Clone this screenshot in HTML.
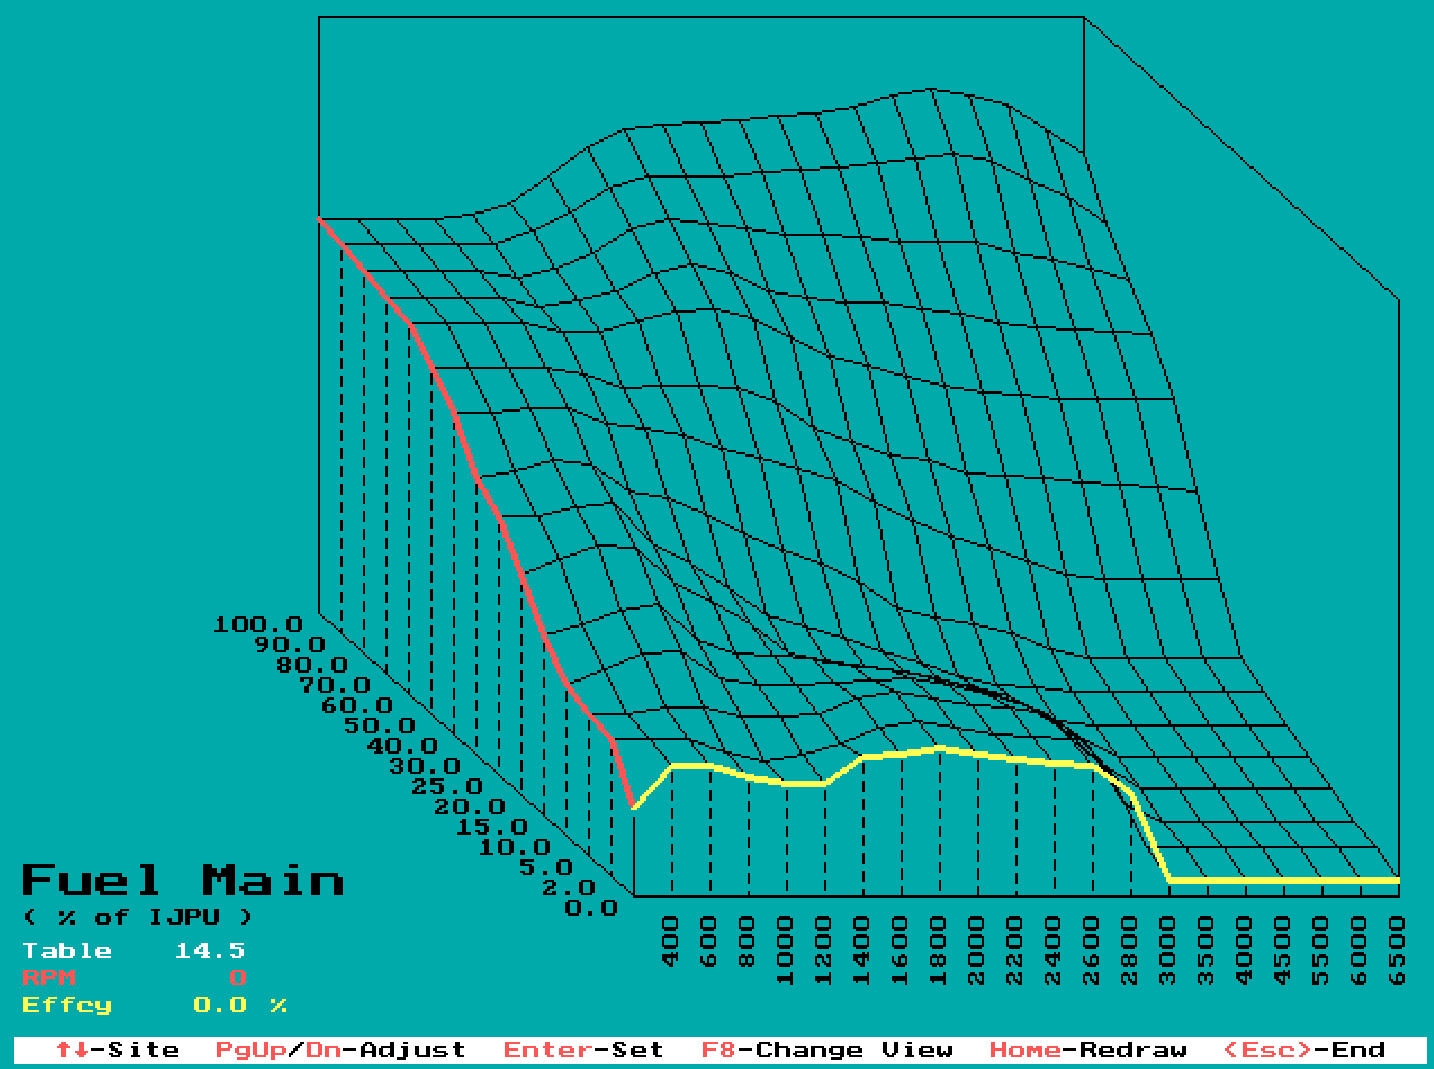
<!DOCTYPE html>
<html lang="en"><head><meta charset="utf-8"><title>Fuel Main ( % of IJPU ) - 3D map</title>
<style>
html,body{margin:0;padding:0;background:#00AAAA;}
body{position:relative;width:1434px;height:1069px;overflow:hidden;font-family:"Liberation Mono",monospace;}
svg{display:block;position:absolute;left:0;top:0}
.t{position:absolute;white-space:pre;color:transparent;font-family:"Liberation Mono",monospace;font-weight:bold;line-height:1;letter-spacing:3.5px;pointer-events:none}
</style></head><body>
<svg width="1434" height="1069" viewBox="0 0 1434 1069" shape-rendering="crispEdges">
<rect x="0" y="0" width="1434" height="1069" fill="#00AAAA"/>
<path fill="#FFFFFF" d="M82 943h6v2h-6zM23 943h14v2h-14zM201 943h7v2h-7zM230 943h14v2h-14zM181 943h4v2h-4zM59 943h5v4h-5zM230 945h5v2h-5zM199 945h9v2h-9zM178 945h7v2h-7zM43 947h12v2h-12zM230 947h11v2h-11zM196 947h5v2h-5zM59 947h14v2h-14zM97 947h12v2h-12zM203 947h5v5h-5zM106 949h5v3h-5zM194 949h5v3h-5zM95 949h5v3h-5zM52 949h5v3h-5zM194 952h16v2h-16zM43 952h14v2h-14zM95 952h16v2h-16zM84 945h4v11h-4zM181 947h4v9h-4zM70 949h5v7h-5zM239 949h5v7h-5zM59 949h5v7h-5zM230 954h5v2h-5zM41 954h5v2h-5zM95 954h5v2h-5zM52 954h5v2h-5zM203 954h5v2h-5zM28 945h4v13h-4zM217 954h4v4h-4zM82 956h9v2h-9zM176 956h14v2h-14zM232 956h9v2h-9zM97 956h14v2h-14zM59 956h14v2h-14zM201 956h9v2h-9zM43 956h14v2h-14zM14 1037h1413v5h-1413zM268 1042h32v2h-32zM14 1042h47v2h-47zM66 1042h13v2h-13zM372 1042h18v2h-18zM320 1042h45v2h-45zM408 1042h47v2h-47zM898 1042h9v2h-9zM120 1042h13v2h-13zM520 1042h25v2h-25zM550 1042h65v2h-65zM1236 1042h7v2h-7zM138 1042h11v2h-11zM912 1042h79v2h-79zM718 1042h5v2h-5zM1303 1042h30v2h-30zM770 1042h5v2h-5zM394 1042h9v2h-9zM230 1042h23v2h-23zM732 1042h27v2h-27zM1348 1042h32v2h-32zM1094 1042h34v2h-34zM1258 1042h41v2h-41zM304 1042h3v2h-3zM624 1042h29v2h-29zM1132 1042h99v2h-99zM84 1042h27v2h-27zM779 1042h104v4h-104zM154 1042h63v4h-63zM1006 1042h75v4h-75zM460 1042h45v4h-45zM658 1042h45v4h-45zM367 1044h3v2h-3zM113 1044h5v2h-5zM394 1044h61v2h-61zM232 1044h21v2h-21zM898 1044h93v2h-93zM1132 1044h97v2h-97zM1306 1044h27v2h-27zM772 1044h3v2h-3zM1096 1044h32v2h-32zM626 1044h27v2h-27zM268 1044h30v2h-30zM14 1044h45v2h-45zM302 1044h5v2h-5zM761 1044h7v2h-7zM1247 1044h54v2h-54zM374 1044h16v2h-16zM68 1044h11v2h-11zM122 1044h27v2h-27zM550 1044h63v2h-63zM1234 1044h9v2h-9zM509 1044h36v2h-36zM617 1044h5v2h-5zM322 1044h41v2h-41zM1337 1044h43v2h-43zM995 1042h7v6h-7zM221 1044h7v4h-7zM707 1044h14v4h-14zM84 1044h25v4h-25zM725 1044h5v4h-5zM734 1044h23v4h-23zM1085 1044h7v4h-7zM509 1046h14v2h-14zM1022 1046h5v2h-5zM1166 1046h5v2h-5zM1274 1046h7v2h-7zM644 1046h7v2h-7zM158 1046h7v2h-7zM788 1046h7v2h-7zM806 1046h5v2h-5zM572 1046h7v2h-7zM592 1046h21v2h-21zM70 1046h9v2h-9zM338 1046h23v2h-23zM1247 1046h16v2h-16zM1292 1046h11v2h-11zM1337 1046h14v2h-14zM1096 1046h5v2h-5zM1231 1046h12v2h-12zM932 1046h5v2h-5zM115 1046h16v2h-16zM554 1046h7v2h-7zM1112 1046h7v2h-7zM824 1046h7v2h-7zM1150 1046h5v2h-5zM284 1046h11v2h-11zM376 1046h5v2h-5zM232 1046h5v2h-5zM1033 1046h3v2h-3zM1186 1046h41v2h-41zM536 1046h7v2h-7zM1006 1046h5v2h-5zM1042 1046h5v2h-5zM860 1046h23v2h-23zM898 1046h7v2h-7zM14 1046h43v2h-43zM464 1046h41v2h-41zM912 1046h9v2h-9zM300 1046h7v2h-7zM619 1046h14v2h-14zM1308 1046h25v2h-25zM430 1046h5v2h-5zM138 1046h9v2h-9zM844 1046h5v2h-5zM1058 1046h23v2h-23zM583 1046h3v2h-3zM176 1046h41v2h-41zM662 1046h41v2h-41zM1141 1046h3v2h-3zM1364 1046h7v2h-7zM394 1046h7v2h-7zM446 1046h7v2h-7zM365 1046h7v5h-7zM1175 1046h7v5h-7zM941 1046h7v5h-7zM923 1048h7v3h-7zM1060 1048h3v3h-3zM851 1048h7v3h-7zM635 1048h7v3h-7zM790 1048h14v3h-14zM1049 1048h7v3h-7zM563 1048h7v3h-7zM167 1048h7v3h-7zM752 1048h5v3h-5zM1283 1048h7v3h-7zM340 1048h3v3h-3zM732 1048h7v3h-7zM1328 1048h5v3h-5zM356 1048h5v3h-5zM1229 1048h14v3h-14zM1256 1048h5v3h-5zM104 1048h7v3h-7zM66 1048h13v3h-13zM716 1048h7v3h-7zM298 1048h9v3h-9zM1346 1048h5v3h-5zM230 1048h5v3h-5zM1294 1048h12v3h-12zM1103 1048h7v3h-7zM622 1048h9v3h-9zM608 1048h7v3h-7zM118 1048h15v3h-15zM1186 1048h39v3h-39zM430 1048h3v3h-3zM586 1048h9v3h-9zM1265 1048h14v3h-14zM518 1048h5v3h-5zM1076 1048h5v3h-5zM437 1048h18v3h-18zM1144 1048h20v3h-20zM286 1048h7v3h-7zM1310 1048h5v3h-5zM84 1048h7v3h-7zM887 1042h7v11h-7zM761 1046h14v7h-14zM1121 1048h7v5h-7zM934 1048h3v5h-3zM239 1048h7v5h-7zM898 1048h9v5h-9zM646 1048h7v5h-7zM178 1048h39v5h-39zM383 1048h7v5h-7zM862 1048h21v5h-21zM574 1048h5v5h-5zM1373 1048h7v5h-7zM275 1048h7v5h-7zM1114 1048h3v5h-3zM833 1048h7v5h-7zM826 1048h3v5h-3zM1094 1048h5v5h-5zM1085 1051h5v2h-5zM1247 1051h16v2h-16zM88 1051h27v2h-27zM1141 1051h14v2h-14zM295 1051h12v2h-12zM286 1051h5v2h-5zM1186 1051h41v2h-41zM1308 1051h25v2h-25zM66 1051h9v2h-9zM430 1051h5v2h-5zM946 1051h2v2h-2zM1274 1051h5v2h-5zM1060 1051h21v2h-21zM941 1051h2v2h-2zM446 1051h9v2h-9zM583 1051h36v2h-36zM1283 1051h20v2h-20zM221 1051h14v2h-14zM1175 1051h2v2h-2zM1031 1051h2v2h-2zM1231 1051h12v2h-12zM1180 1051h2v2h-2zM790 1051h5v2h-5zM1036 1051h2v2h-2zM257 1042h7v13h-7zM311 1044h7v11h-7zM408 1046h7v9h-7zM419 1046h7v9h-7zM268 1046h3v9h-3zM952 1046h39v9h-39zM322 1046h3v9h-3zM250 1046h3v9h-3zM844 1048h3v7h-3zM1042 1048h3v7h-3zM550 1048h9v7h-9zM460 1048h45v7h-45zM912 1048h7v7h-7zM154 1048h9v7h-9zM1366 1048h3v7h-3zM538 1048h7v7h-7zM376 1048h3v7h-3zM1013 1048h7v7h-7zM1006 1048h3v7h-3zM1168 1048h3v7h-3zM1024 1048h3v7h-3zM138 1048h11v7h-11zM658 1048h45v7h-45zM509 1051h14v4h-14zM734 1051h23v4h-23zM626 1051h5v4h-5zM707 1051h14v4h-14zM122 1051h11v4h-11zM1337 1051h14v4h-14zM725 1051h5v4h-5zM113 1053h5v2h-5zM1186 1053h43v2h-43zM772 1053h3v2h-3zM1283 1053h18v2h-18zM284 1053h5v2h-5zM66 1053h11v2h-11zM221 1053h16v2h-16zM1234 1053h9v2h-9zM1049 1053h32v2h-32zM86 1053h23v2h-23zM617 1053h5v2h-5zM1276 1053h3v2h-3zM790 1053h3v2h-3zM563 1053h16v2h-16zM826 1053h5v2h-5zM448 1053h7v2h-7zM1373 1053h5v2h-5zM1121 1053h5v2h-5zM1103 1053h14v2h-14zM1141 1053h12v2h-12zM1096 1053h3v2h-3zM797 1053h7v2h-7zM1247 1053h25v2h-25zM430 1053h14v2h-14zM889 1053h3v2h-3zM896 1053h11v2h-11zM1157 1053h7v2h-7zM923 1053h14v2h-14zM293 1053h14v2h-14zM383 1053h5v2h-5zM1306 1053h27v2h-27zM851 1053h34v2h-34zM761 1053h7v2h-7zM635 1053h18v2h-18zM167 1053h50v2h-50zM583 1053h30v2h-30zM1384 1042h43v15h-43zM1132 1046h5v11h-5zM394 1048h9v9h-9zM14 1048h47v9h-47zM779 1048h7v9h-7zM808 1048h3v9h-3zM527 1048h7v9h-7zM815 1048h7v9h-7zM329 1048h7v9h-7zM1355 1048h7v9h-7zM995 1051h7v6h-7zM340 1051h21v6h-21zM365 1053h7v4h-7zM1085 1053h7v4h-7zM1031 1053h7v4h-7zM1022 1055h5v2h-5zM430 1055h3v2h-3zM1168 1055h5v2h-5zM66 1055h13v2h-13zM158 1055h7v2h-7zM320 1055h5v2h-5zM646 1055h9v2h-9zM914 1055h7v2h-7zM1274 1055h7v2h-7zM275 1055h14v2h-14zM1141 1055h14v2h-14zM1096 1055h5v2h-5zM1258 1055h3v2h-3zM1366 1055h5v2h-5zM250 1055h5v2h-5zM446 1055h11v2h-11zM1177 1055h3v2h-3zM178 1055h39v2h-39zM1126 1055h2v2h-2zM1236 1055h7v2h-7zM554 1055h7v2h-7zM934 1055h5v2h-5zM221 1055h25v2h-25zM1294 1055h5v2h-5zM376 1055h5v2h-5zM1060 1055h21v2h-21zM538 1055h9v2h-9zM1184 1055h47v2h-47zM291 1055h16v2h-16zM1303 1055h30v2h-30zM1006 1055h5v2h-5zM1348 1055h3v2h-3zM120 1055h11v2h-11zM583 1055h32v2h-32zM770 1055h5v2h-5zM520 1055h3v2h-3zM790 1055h5v2h-5zM732 1055h27v2h-27zM140 1055h11v2h-11zM862 1055h25v2h-25zM943 1055h3v2h-3zM464 1055h41v2h-41zM1378 1055h2v2h-2zM894 1055h11v2h-11zM624 1055h9v2h-9zM408 1055h9v2h-9zM826 1055h14v2h-14zM266 1055h5v2h-5zM574 1055h5v2h-5zM844 1055h5v2h-5zM662 1055h41v2h-41zM707 1055h16v2h-16zM950 1055h41v2h-41zM388 1055h2v2h-2zM1042 1055h5v2h-5zM84 1055h27v2h-27zM1114 1055h5v2h-5zM842 1057h585v3h-585zM14 1057h223v3h-223zM248 1057h23v3h-23zM406 1057h425v3h-425zM275 1057h122v3h-122zM14 1060h1413v4h-1413z"/>
<path fill="#000000" d="M318 16h767v2h-767zM1083 18h4v2h-4zM1087 20h3v2h-3zM1090 22h2v3h-2zM1092 25h4v2h-4zM1096 27h3v2h-3zM1099 29h2v2h-2zM1101 31h2v3h-2zM1103 34h2v2h-2zM1105 36h3v2h-3zM1108 38h2v2h-2zM1110 40h2v3h-2zM1112 43h2v2h-2zM1114 45h5v2h-5zM1119 47h2v2h-2zM1121 49h2v3h-2zM1123 52h3v2h-3zM1126 54h2v2h-2zM1128 56h2v2h-2zM1130 58h2v3h-2zM1132 61h3v2h-3zM1135 63h2v2h-2zM1137 65h4v2h-4zM1141 67h3v3h-3zM1144 70h2v2h-2zM1146 72h2v2h-2zM1148 74h2v2h-2zM1150 76h3v3h-3zM1153 79h2v2h-2zM1155 81h2v2h-2zM1157 83h2v2h-2zM1159 85h5v3h-5zM925 88h12v2h-12zM1164 88h2v2h-2zM937 90h13v2h-13zM912 90h13v2h-13zM1166 90h2v2h-2zM930 90h2v2h-2zM950 92h14v2h-14zM898 92h14v2h-14zM1168 92h3v2h-3zM1171 94h2v3h-2zM889 94h9v3h-9zM964 94h11v3h-11zM932 92h2v7h-2zM975 97h9v2h-9zM880 97h9v2h-9zM892 97h2v2h-2zM1173 97h2v2h-2zM968 97h2v2h-2zM984 99h9v2h-9zM1175 99h2v2h-2zM874 99h6v2h-6zM993 101h9v2h-9zM1177 101h3v2h-3zM867 101h7v2h-7zM970 99h3v7h-3zM934 99h3v7h-3zM894 99h2v7h-2zM1180 103h2v3h-2zM858 103h9v3h-9zM1002 103h7v3h-7zM849 106h9v2h-9zM1006 106h7v2h-7zM1182 106h4v2h-4zM853 108h3v2h-3zM1186 108h3v2h-3zM835 108h14v2h-14zM1013 108h2v2h-2zM896 106h2v6h-2zM937 106h2v6h-2zM973 106h2v6h-2zM822 110h13v2h-13zM1015 110h5v2h-5zM1189 110h2v2h-2zM856 110h2v5h-2zM797 112h25v3h-25zM1020 112h2v3h-2zM1191 112h2v3h-2zM1009 108h2v9h-2zM898 112h3v5h-3zM1193 115h2v2h-2zM768 115h29v2h-29zM1022 115h5v2h-5zM815 115h2v2h-2zM975 112h2v7h-2zM939 112h2v7h-2zM750 117h18v2h-18zM1027 117h4v2h-4zM777 117h2v2h-2zM1195 117h3v2h-3zM858 115h2v6h-2zM817 117h3v4h-3zM1198 119h2v2h-2zM721 119h29v2h-29zM1031 119h2v2h-2zM1011 117h2v7h-2zM901 117h2v7h-2zM941 119h2v5h-2zM779 119h2v5h-2zM739 121h2v3h-2zM1200 121h2v3h-2zM1033 121h5v3h-5zM682 121h39v3h-39zM977 119h2v7h-2zM860 121h2v5h-2zM1202 124h2v2h-2zM653 124h29v2h-29zM700 124h3v2h-3zM1038 124h2v2h-2zM820 121h2v7h-2zM741 124h2v4h-2zM1040 126h5v2h-5zM1204 126h5v2h-5zM635 126h18v2h-18zM662 126h2v2h-2zM781 124h3v6h-3zM903 124h2v6h-2zM943 124h3v6h-3zM1013 124h2v6h-2zM979 126h3v4h-3zM703 126h2v4h-2zM1045 128h2v2h-2zM622 128h13v2h-13zM1209 128h2v2h-2zM862 126h3v7h-3zM664 128h3v5h-3zM743 128h2v5h-2zM822 128h2v5h-2zM624 130h2v3h-2zM617 130h5v3h-5zM1211 130h2v3h-2zM1045 130h6v3h-6zM784 130h2v5h-2zM1051 133h3v2h-3zM1213 133h3v2h-3zM613 133h4v2h-4zM905 130h2v7h-2zM705 130h2v7h-2zM982 130h2v7h-2zM946 130h2v7h-2zM824 133h2v4h-2zM865 133h2v4h-2zM626 133h2v4h-2zM667 133h2v4h-2zM1216 135h2v2h-2zM608 135h5v2h-5zM1054 135h4v2h-4zM1015 130h3v9h-3zM745 133h3v6h-3zM1047 133h2v6h-2zM786 135h2v4h-2zM604 137h4v2h-4zM1218 137h2v2h-2zM1058 137h2v2h-2zM628 137h3v5h-3zM707 137h2v5h-2zM599 139h5v3h-5zM1060 139h5v3h-5zM1220 139h2v3h-2zM867 137h2v7h-2zM984 137h2v7h-2zM669 137h2v7h-2zM907 137h3v7h-3zM826 137h3v7h-3zM948 137h2v7h-2zM748 139h2v5h-2zM595 142h4v2h-4zM1222 142h3v2h-3zM1065 142h4v2h-4zM788 139h2v7h-2zM1018 139h2v7h-2zM1049 139h2v7h-2zM709 142h3v4h-3zM631 142h2v4h-2zM590 144h5v2h-5zM1069 144h3v2h-3zM1225 144h2v2h-2zM910 144h2v4h-2zM750 144h2v4h-2zM671 144h2v4h-2zM829 144h2v4h-2zM869 144h2v4h-2zM586 146h4v2h-4zM1227 146h4v2h-4zM1072 146h4v2h-4zM1083 20h2v131h-2zM986 144h2v7h-2zM950 144h2v7h-2zM633 146h2v5h-2zM790 146h3v5h-3zM1076 148h2v3h-2zM583 148h3v3h-3zM1231 148h3v3h-3zM1051 146h3v7h-3zM712 146h2v7h-2zM673 148h3v5h-3zM752 148h2v5h-2zM588 148h2v5h-2zM579 151h4v2h-4zM952 151h3v2h-3zM1078 151h7v2h-7zM1234 151h2v2h-2zM1020 146h2v9h-2zM831 148h2v7h-2zM912 148h2v7h-2zM871 148h3v7h-3zM635 151h2v4h-2zM1236 153h2v2h-2zM577 153h2v2h-2zM943 153h16v2h-16zM988 151h3v6h-3zM793 151h2v6h-2zM590 153h2v4h-2zM714 153h2v4h-2zM676 153h2v4h-2zM1083 153h2v4h-2zM574 155h3v2h-3zM1238 155h2v2h-2zM925 155h18v2h-18zM952 155h3v2h-3zM959 155h14v2h-14zM914 155h2v2h-2zM1054 153h2v7h-2zM754 153h3v7h-3zM833 155h2v5h-2zM637 155h3v5h-3zM874 155h2v5h-2zM570 157h4v3h-4zM991 157h2v3h-2zM973 157h13v3h-13zM1240 157h3v3h-3zM905 157h20v3h-20zM1022 155h2v7h-2zM592 157h3v5h-3zM795 157h2v5h-2zM914 160h2v2h-2zM876 160h2v2h-2zM887 160h18v2h-18zM1243 160h2v2h-2zM568 160h2v2h-2zM986 160h7v2h-7zM678 157h2v7h-2zM1085 157h2v7h-2zM716 157h2v7h-2zM835 160h3v4h-3zM640 160h2v4h-2zM757 160h2v4h-2zM1245 162h2v2h-2zM991 162h6v2h-6zM867 162h20v2h-20zM565 162h3v2h-3zM955 157h2v9h-2zM1056 160h2v6h-2zM797 162h2v4h-2zM595 162h2v4h-2zM1247 164h2v2h-2zM849 164h18v2h-18zM876 164h2v2h-2zM991 164h2v2h-2zM561 164h4v2h-4zM838 164h2v2h-2zM997 164h5v2h-5zM1024 162h3v7h-3zM680 164h2v5h-2zM642 164h2v5h-2zM759 164h2v5h-2zM718 164h3v5h-3zM1249 166h5v3h-5zM820 166h29v3h-29zM1002 166h4v3h-4zM799 166h3v3h-3zM597 166h2v3h-2zM559 166h2v3h-2zM916 162h3v9h-3zM1087 164h3v7h-3zM838 169h2v2h-2zM781 169h39v2h-39zM556 169h3v2h-3zM1006 169h5v2h-5zM761 169h2v2h-2zM1254 169h2v2h-2zM1058 166h2v7h-2zM644 169h2v4h-2zM599 169h2v4h-2zM721 169h2v4h-2zM682 169h3v4h-3zM1256 171h2v2h-2zM752 171h29v2h-29zM799 171h3v2h-3zM1011 171h4v2h-4zM552 171h4v2h-4zM957 166h2v9h-2zM878 166h2v9h-2zM993 166h2v9h-2zM761 173h2v2h-2zM1258 173h3v2h-3zM734 173h18v2h-18zM723 173h2v2h-2zM1015 173h5v2h-5zM550 173h2v2h-2zM685 173h2v2h-2zM646 173h3v2h-3zM1027 169h2v9h-2zM840 171h2v7h-2zM1090 171h2v7h-2zM601 173h3v5h-3zM1261 175h2v3h-2zM547 175h3v3h-3zM644 175h90v3h-90zM1020 175h4v3h-4zM919 171h2v9h-2zM1060 173h3v7h-3zM802 173h2v7h-2zM723 178h2v2h-2zM685 178h2v2h-2zM1263 178h2v2h-2zM543 178h4v2h-4zM635 178h9v2h-9zM1024 178h7v2h-7zM880 175h3v7h-3zM763 175h3v7h-3zM649 178h2v4h-2zM550 178h2v4h-2zM604 178h2v4h-2zM628 180h7v2h-7zM541 180h2v2h-2zM1029 180h4v2h-4zM1265 180h2v2h-2zM959 175h2v9h-2zM995 175h2v9h-2zM1092 178h2v6h-2zM842 178h2v6h-2zM725 180h2v4h-2zM687 180h2v4h-2zM1267 182h3v2h-3zM1033 182h5v2h-5zM538 182h3v2h-3zM622 182h6v2h-6zM1029 182h2v2h-2zM804 180h2v7h-2zM1063 180h2v7h-2zM921 180h2v7h-2zM606 182h2v5h-2zM651 182h2v5h-2zM552 182h2v5h-2zM1038 184h7v3h-7zM1270 184h2v3h-2zM534 184h4v3h-4zM613 184h9v3h-9zM766 182h2v7h-2zM689 184h2v5h-2zM727 184h3v5h-3zM554 187h2v2h-2zM1272 187h4v2h-4zM1045 187h4v2h-4zM532 187h2v2h-2zM608 187h5v2h-5zM883 182h2v9h-2zM844 184h3v7h-3zM653 187h2v4h-2zM527 189h5v2h-5zM604 189h4v2h-4zM1049 189h5v2h-5zM1276 189h3v2h-3zM997 184h3v9h-3zM1031 184h2v9h-2zM1094 184h2v9h-2zM961 184h3v9h-3zM806 187h2v6h-2zM1065 187h2v6h-2zM556 189h3v4h-3zM691 189h3v4h-3zM610 189h3v4h-3zM768 189h2v4h-2zM525 191h2v2h-2zM1279 191h2v2h-2zM601 191h3v2h-3zM1054 191h6v2h-6zM923 187h2v9h-2zM730 189h2v7h-2zM655 191h3v5h-3zM1281 193h2v3h-2zM520 193h5v3h-5zM559 193h2v3h-2zM1067 193h2v3h-2zM1060 193h5v3h-5zM597 193h4v3h-4zM885 191h2v7h-2zM847 191h2v7h-2zM694 193h2v5h-2zM613 193h2v5h-2zM1065 196h4v2h-4zM518 196h2v2h-2zM1283 196h2v2h-2zM595 196h2v2h-2zM1033 193h3v7h-3zM1096 193h3v7h-3zM808 193h3v7h-3zM770 193h2v7h-2zM658 196h2v4h-2zM732 196h2v4h-2zM561 196h2v4h-2zM1067 198h7v2h-7zM590 198h5v2h-5zM516 198h2v2h-2zM1285 198h3v2h-3zM1000 193h2v9h-2zM964 193h2v9h-2zM696 198h2v4h-2zM615 198h2v4h-2zM1288 200h2v2h-2zM1074 200h2v2h-2zM511 200h5v2h-5zM586 200h4v2h-4zM925 196h3v9h-3zM660 200h2v5h-2zM734 200h2v5h-2zM811 200h2v5h-2zM563 200h2v5h-2zM507 202h4v3h-4zM1290 202h2v3h-2zM1076 202h2v3h-2zM583 202h3v3h-3zM887 198h2v9h-2zM849 198h2v9h-2zM1069 200h3v7h-3zM772 200h3v7h-3zM1099 200h2v7h-2zM617 202h2v5h-2zM698 202h2v5h-2zM579 205h4v2h-4zM565 205h3v2h-3zM1292 205h2v2h-2zM1078 205h5v2h-5zM498 205h9v2h-9zM511 205h3v2h-3zM1036 200h2v9h-2zM662 205h2v4h-2zM736 205h3v4h-3zM1083 207h2v2h-2zM577 207h2v2h-2zM491 207h7v2h-7zM619 207h3v2h-3zM1294 207h5v2h-5zM1002 202h2v9h-2zM966 202h2v9h-2zM813 205h2v6h-2zM514 207h2v4h-2zM700 207h3v4h-3zM568 207h2v4h-2zM1085 209h5v2h-5zM1299 209h2v2h-2zM572 209h5v2h-5zM484 209h7v2h-7zM928 205h2v9h-2zM1101 207h2v7h-2zM775 207h2v7h-2zM889 207h3v7h-3zM851 207h2v7h-2zM622 209h2v5h-2zM664 209h3v5h-3zM1301 211h2v3h-2zM516 211h2v3h-2zM475 211h9v3h-9zM1090 211h2v3h-2zM568 211h4v3h-4zM318 18h2v198h-2zM1072 207h2v9h-2zM739 209h2v7h-2zM1038 209h2v7h-2zM703 211h2v5h-2zM1303 214h3v2h-3zM518 214h2v2h-2zM462 214h13v2h-13zM563 214h5v2h-5zM1092 214h4v2h-4zM815 211h2v7h-2zM624 214h2v4h-2zM572 214h2v4h-2zM667 214h2v4h-2zM444 216h18v2h-18zM559 216h4v2h-4zM473 216h2v2h-2zM1096 216h3v2h-3zM520 216h3v2h-3zM1306 216h2v2h-2zM968 211h2v9h-2zM1004 211h2v9h-2zM853 214h3v6h-3zM1103 214h2v6h-2zM930 214h2v6h-2zM777 214h2v6h-2zM741 216h2v4h-2zM705 216h2v4h-2zM1308 218h2v2h-2zM322 218h122v2h-122zM554 218h5v2h-5zM1099 218h2v2h-2zM664 218h16v2h-16zM523 218h2v2h-2zM892 214h2v9h-2zM1074 216h2v7h-2zM574 218h3v5h-3zM475 218h3v5h-3zM626 218h2v5h-2zM358 220h3v3h-3zM669 220h2v3h-2zM550 220h4v3h-4zM1310 220h2v3h-2zM435 220h2v3h-2zM1101 220h7v3h-7zM680 220h18v3h-18zM397 220h2v3h-2zM707 220h2v3h-2zM655 220h9v3h-9zM1040 216h2v9h-2zM817 218h3v7h-3zM525 220h2v5h-2zM743 220h2v5h-2zM779 220h2v5h-2zM698 223h20v2h-20zM361 223h2v2h-2zM1312 223h3v2h-3zM478 223h2v2h-2zM437 223h2v2h-2zM545 223h5v2h-5zM646 223h9v2h-9zM399 223h2v2h-2zM856 220h2v7h-2zM577 223h2v4h-2zM628 223h3v4h-3zM671 223h2v4h-2zM1105 223h3v4h-3zM637 225h9v2h-9zM401 225h2v2h-2zM541 225h4v2h-4zM527 225h2v2h-2zM363 225h2v2h-2zM745 225h3v2h-3zM718 225h18v2h-18zM1315 225h2v2h-2zM707 225h2v2h-2zM480 225h2v2h-2zM439 225h3v2h-3zM970 220h3v9h-3zM932 220h2v9h-2zM1006 220h3v9h-3zM894 223h2v6h-2zM1076 223h2v6h-2zM442 227h2v2h-2zM403 227h3v2h-3zM529 227h3v2h-3zM1317 227h4v2h-4zM736 227h16v2h-16zM365 227h2v2h-2zM631 227h6v2h-6zM536 227h5v2h-5zM781 225h3v7h-3zM1042 225h3v7h-3zM820 225h2v7h-2zM709 227h3v5h-3zM579 227h2v5h-2zM673 227h3v5h-3zM1108 227h2v5h-2zM482 227h2v5h-2zM626 229h7v3h-7zM1321 229h3v3h-3zM745 229h3v3h-3zM752 229h14v3h-14zM529 229h7v3h-7zM858 227h2v7h-2zM367 229h3v5h-3zM444 229h2v5h-2zM406 229h2v5h-2zM784 232h2v2h-2zM484 232h3v2h-3zM523 232h6v2h-6zM1324 232h2v2h-2zM581 232h2v2h-2zM624 232h2v2h-2zM822 232h2v2h-2zM766 232h13v2h-13zM1078 229h3v7h-3zM534 232h2v4h-2zM712 232h2v4h-2zM633 232h2v4h-2zM676 232h2v4h-2zM619 234h5v2h-5zM370 234h2v2h-2zM487 234h2v2h-2zM446 234h2v2h-2zM860 234h2v2h-2zM516 234h7v2h-7zM408 234h2v2h-2zM1326 234h2v2h-2zM779 234h63v2h-63zM896 229h2v9h-2zM973 229h2v9h-2zM934 229h3v9h-3zM1009 229h2v9h-2zM748 232h2v6h-2zM1110 232h2v6h-2zM583 234h3v4h-3zM410 236h2v2h-2zM617 236h2v2h-2zM784 236h2v2h-2zM372 236h2v2h-2zM511 236h5v2h-5zM448 236h3v2h-3zM1328 236h2v2h-2zM822 236h2v2h-2zM842 236h29v2h-29zM1045 232h2v9h-2zM678 236h2v5h-2zM536 236h2v5h-2zM714 236h2v5h-2zM489 236h2v5h-2zM635 236h2v5h-2zM451 238h2v3h-2zM1330 238h3v3h-3zM937 238h2v3h-2zM898 238h3v3h-3zM412 238h3v3h-3zM871 238h18v3h-18zM613 238h4v3h-4zM860 238h2v3h-2zM374 238h2v3h-2zM505 238h6v3h-6zM975 238h2v3h-2zM1081 236h2v7h-2zM1112 238h2v5h-2zM586 238h2v5h-2zM453 241h2v2h-2zM1333 241h2v2h-2zM538 241h3v2h-3zM415 241h2v2h-2zM889 241h90v2h-90zM376 241h3v2h-3zM491 241h2v2h-2zM608 241h5v2h-5zM498 241h7v2h-7zM750 238h2v7h-2zM824 238h2v7h-2zM786 238h2v7h-2zM637 241h3v4h-3zM680 241h2v4h-2zM716 241h2v4h-2zM606 243h2v2h-2zM937 243h2v2h-2zM979 243h9v2h-9zM898 243h3v2h-3zM1335 243h2v2h-2zM975 243h2v2h-2zM345 243h153v2h-153zM1011 238h2v9h-2zM1047 241h2v6h-2zM862 241h3v6h-3zM588 243h2v4h-2zM541 243h2v4h-2zM381 245h2v2h-2zM601 245h5v2h-5zM988 245h7v2h-7zM457 245h3v2h-3zM1337 245h2v2h-2zM419 245h2v2h-2zM1114 243h3v7h-3zM752 245h2v5h-2zM496 245h2v5h-2zM640 245h2v5h-2zM682 245h3v5h-3zM995 247h7v3h-7zM599 247h2v3h-2zM1339 247h5v3h-5zM1083 243h2v9h-2zM939 245h2v7h-2zM718 245h3v7h-3zM826 245h3v7h-3zM901 245h2v7h-2zM788 245h2v7h-2zM421 247h3v5h-3zM1013 247h2v5h-2zM383 247h2v5h-2zM590 247h2v5h-2zM460 247h2v5h-2zM543 247h2v5h-2zM1002 250h9v2h-9zM595 250h4v2h-4zM1344 250h2v2h-2zM498 250h2v2h-2zM977 245h2v9h-2zM865 247h2v7h-2zM642 250h2v4h-2zM1117 250h2v4h-2zM685 250h2v4h-2zM462 252h2v2h-2zM590 252h5v2h-5zM1011 252h9v2h-9zM424 252h2v2h-2zM1346 252h2v2h-2zM385 252h3v2h-3zM1049 247h2v9h-2zM754 250h3v6h-3zM721 252h2v4h-2zM545 252h2v4h-2zM500 252h2v4h-2zM790 252h3v4h-3zM464 254h2v2h-2zM1020 254h13v2h-13zM1013 254h2v2h-2zM426 254h2v2h-2zM586 254h4v2h-4zM388 254h2v2h-2zM1348 254h3v2h-3zM1085 252h2v7h-2zM829 252h2v7h-2zM903 252h2v7h-2zM644 254h2v5h-2zM595 254h2v5h-2zM687 254h2v5h-2zM390 256h2v3h-2zM1351 256h2v3h-2zM1051 256h3v3h-3zM502 256h3v3h-3zM547 256h3v3h-3zM466 256h3v3h-3zM579 256h7v3h-7zM428 256h2v3h-2zM1033 256h14v3h-14zM340 250h3v11h-3zM941 252h2v9h-2zM867 254h2v7h-2zM1119 254h2v7h-2zM723 256h2v5h-2zM430 259h3v2h-3zM392 259h2v2h-2zM1047 259h11v2h-11zM1353 259h2v2h-2zM574 259h5v2h-5zM469 259h2v2h-2zM979 254h3v9h-3zM793 256h2v7h-2zM757 256h2v7h-2zM1015 256h3v7h-3zM689 259h2v4h-2zM597 259h2v4h-2zM505 259h2v4h-2zM550 259h2v4h-2zM646 259h3v4h-3zM1051 261h3v2h-3zM570 261h4v2h-4zM1355 261h2v2h-2zM1058 261h9v2h-9zM905 259h2v6h-2zM1087 259h3v6h-3zM831 259h2v6h-2zM471 261h2v4h-2zM433 261h2v4h-2zM394 261h3v4h-3zM725 261h2v4h-2zM1121 261h2v4h-2zM599 263h2v2h-2zM563 263h7v2h-7zM507 263h2v2h-2zM687 263h11v2h-11zM1067 263h9v2h-9zM1357 263h3v2h-3zM869 261h2v7h-2zM943 261h3v7h-3zM649 263h2v5h-2zM552 263h2v5h-2zM1360 265h2v3h-2zM678 265h9v3h-9zM559 265h4v3h-4zM473 265h2v3h-2zM435 265h2v3h-2zM691 265h3v3h-3zM1076 265h9v3h-9zM397 265h2v3h-2zM1090 265h2v3h-2zM698 265h9v3h-9zM795 263h2v7h-2zM982 263h2v7h-2zM1054 263h2v7h-2zM759 263h2v7h-2zM509 265h2v5h-2zM601 265h3v5h-3zM727 265h3v5h-3zM669 268h9v2h-9zM1085 268h9v2h-9zM475 268h3v2h-3zM550 268h9v2h-9zM437 268h2v2h-2zM707 268h9v2h-9zM1362 268h4v2h-4zM399 268h2v2h-2zM1018 263h2v9h-2zM833 265h2v7h-2zM1123 265h3v7h-3zM907 265h3v7h-3zM651 268h2v4h-2zM694 268h2v4h-2zM871 268h3v4h-3zM730 270h2v2h-2zM1094 270h9v2h-9zM660 270h9v2h-9zM367 270h117v2h-117zM1366 270h3v2h-3zM541 270h9v2h-9zM716 270h9v2h-9zM511 270h3v2h-3zM1090 270h2v2h-2zM946 268h2v6h-2zM556 270h3v4h-3zM604 270h2v4h-2zM442 272h2v2h-2zM651 272h9v2h-9zM1103 272h7v2h-7zM403 272h3v2h-3zM484 272h14v2h-14zM725 272h9v2h-9zM480 272h2v2h-2zM532 272h9v2h-9zM1369 272h2v2h-2zM761 270h2v7h-2zM797 270h2v7h-2zM1056 270h2v7h-2zM514 272h2v5h-2zM1126 272h2v5h-2zM696 272h2v5h-2zM523 274h9v3h-9zM730 274h2v3h-2zM1371 274h2v3h-2zM1110 274h7v3h-7zM734 274h5v3h-5zM559 274h2v3h-2zM646 274h5v3h-5zM498 274h13v3h-13zM340 268h3v11h-3zM984 270h2v9h-2zM874 272h2v7h-2zM1020 272h2v7h-2zM1092 272h2v7h-2zM835 272h3v7h-3zM910 272h2v7h-2zM606 274h2v5h-2zM444 274h2v5h-2zM406 274h2v5h-2zM655 274h3v5h-3zM482 274h2v5h-2zM642 277h4v2h-4zM739 277h4v2h-4zM1117 277h9v2h-9zM1373 277h2v2h-2zM511 277h12v2h-12zM1128 277h2v2h-2zM561 277h2v2h-2zM948 274h2v7h-2zM763 277h3v4h-3zM732 277h2v4h-2zM698 277h2v4h-2zM1126 279h4v2h-4zM743 279h5v2h-5zM484 279h3v2h-3zM608 279h2v2h-2zM1375 279h3v2h-3zM446 279h2v2h-2zM518 279h2v2h-2zM637 279h5v2h-5zM408 279h2v2h-2zM1058 277h2v6h-2zM799 277h3v6h-3zM658 279h2v4h-2zM563 279h2v4h-2zM410 281h2v2h-2zM633 281h4v2h-4zM748 281h4v2h-4zM487 281h2v2h-2zM1128 281h2v2h-2zM1378 281h2v2h-2zM448 281h3v2h-3zM876 279h2v7h-2zM1094 279h2v7h-2zM1022 279h2v7h-2zM838 279h2v7h-2zM912 279h2v7h-2zM986 279h2v7h-2zM700 281h3v5h-3zM610 281h3v5h-3zM734 281h2v5h-2zM520 281h3v5h-3zM451 283h2v3h-2zM1380 283h2v3h-2zM565 283h3v3h-3zM660 283h2v3h-2zM412 283h3v3h-3zM489 283h2v3h-2zM752 283h5v3h-5zM628 283h5v3h-5zM363 277h2v11h-2zM950 281h2v7h-2zM766 281h2v7h-2zM1130 283h2v5h-2zM802 283h2v5h-2zM1382 286h2v2h-2zM757 286h4v2h-4zM453 286h2v2h-2zM624 286h4v2h-4zM415 286h2v2h-2zM491 286h2v2h-2zM523 286h2v2h-2zM1060 283h3v7h-3zM568 286h2v4h-2zM662 286h2v4h-2zM703 286h2v4h-2zM1096 286h3v4h-3zM736 286h3v4h-3zM613 286h2v4h-2zM619 288h5v2h-5zM1384 288h5v2h-5zM525 288h2v2h-2zM768 288h2v2h-2zM761 288h5v2h-5zM878 286h2v6h-2zM840 286h2v6h-2zM914 286h2v6h-2zM493 288h3v4h-3zM455 288h2v4h-2zM417 288h2v4h-2zM610 290h9v2h-9zM570 290h2v2h-2zM766 290h9v2h-9zM1389 290h2v2h-2zM988 286h3v9h-3zM1024 286h3v9h-3zM804 288h2v7h-2zM1132 288h3v7h-3zM527 290h2v5h-2zM705 290h2v5h-2zM664 290h3v5h-3zM739 290h2v5h-2zM1391 292h2v3h-2zM617 292h2v3h-2zM496 292h2v3h-2zM775 292h13v3h-13zM457 292h3v3h-3zM601 292h9v3h-9zM768 292h2v3h-2zM572 292h2v3h-2zM419 292h2v3h-2zM340 286h3v11h-3zM952 288h3v9h-3zM1099 290h2v7h-2zM788 295h14v2h-14zM1393 295h3v2h-3zM421 295h3v2h-3zM806 295h2v2h-2zM529 295h3v2h-3zM498 295h2v2h-2zM592 295h9v2h-9zM460 295h2v2h-2zM1063 290h2v9h-2zM916 292h3v7h-3zM880 292h3v7h-3zM842 292h2v7h-2zM574 295h3v4h-3zM741 295h2v4h-2zM1135 295h2v4h-2zM619 295h3v4h-3zM707 295h2v4h-2zM770 295h2v4h-2zM667 295h2v4h-2zM390 297h117v2h-117zM1396 297h2v2h-2zM532 297h2v2h-2zM583 297h9v2h-9zM802 297h15v2h-15zM1027 295h2v6h-2zM844 299h3v2h-3zM669 299h2v2h-2zM817 299h18v2h-18zM464 299h2v2h-2zM806 299h2v2h-2zM572 299h11v2h-11zM507 299h9v2h-9zM622 299h2v2h-2zM426 299h2v2h-2zM883 299h2v2h-2zM502 299h3v2h-3zM991 295h2v9h-2zM1101 297h2v7h-2zM955 297h2v7h-2zM709 299h3v5h-3zM534 299h2v5h-2zM772 299h3v5h-3zM743 299h2v5h-2zM1137 299h2v5h-2zM505 301h2v3h-2zM516 301h9v3h-9zM466 301h3v3h-3zM624 301h2v3h-2zM428 301h2v3h-2zM835 301h54v3h-54zM559 301h13v3h-13zM363 295h2v11h-2zM919 299h2v7h-2zM1065 299h2v7h-2zM579 301h2v5h-2zM671 301h2v5h-2zM808 301h3v5h-3zM430 304h3v2h-3zM844 304h3v2h-3zM525 304h9v2h-9zM536 304h2v2h-2zM507 304h2v2h-2zM545 304h14v2h-14zM469 304h2v2h-2zM883 304h2v2h-2zM889 304h14v2h-14zM1029 301h2v7h-2zM712 304h2v4h-2zM775 304h2v4h-2zM745 304h3v4h-3zM626 304h2v4h-2zM471 306h2v2h-2zM903 306h13v2h-13zM433 306h2v2h-2zM921 306h2v2h-2zM509 306h2v2h-2zM581 306h2v2h-2zM534 306h11v2h-11zM957 304h2v6h-2zM1103 304h2v6h-2zM993 304h2v6h-2zM1139 304h2v6h-2zM673 306h3v4h-3zM916 308h16v2h-16zM628 308h3v2h-3zM696 308h25v2h-25zM541 308h2v2h-2zM583 308h3v2h-3zM885 306h2v7h-2zM847 306h2v7h-2zM1067 306h2v7h-2zM811 306h2v7h-2zM473 308h2v5h-2zM435 308h2v5h-2zM777 308h2v5h-2zM748 308h2v5h-2zM511 308h3v5h-3zM671 310h25v3h-25zM721 310h9v3h-9zM959 310h2v3h-2zM932 310h18v3h-18zM631 310h2v3h-2zM714 310h2v3h-2zM921 310h2v3h-2zM543 310h2v3h-2zM340 304h3v11h-3zM385 304h3v11h-3zM586 310h2v5h-2zM1141 310h3v5h-3zM514 313h2v2h-2zM730 313h9v2h-9zM545 313h2v2h-2zM475 313h3v2h-3zM662 313h9v2h-9zM950 313h16v2h-16zM437 313h2v2h-2zM676 313h2v2h-2zM1031 308h2v9h-2zM1105 310h3v7h-3zM750 313h2v4h-2zM633 313h2v4h-2zM779 313h2v4h-2zM588 315h2v2h-2zM959 315h2v2h-2zM547 315h3v2h-3zM516 315h2v2h-2zM478 315h2v2h-2zM653 315h9v2h-9zM739 315h9v2h-9zM439 315h3v2h-3zM966 315h9v2h-9zM995 310h2v9h-2zM813 313h2v6h-2zM1069 313h3v6h-3zM849 313h2v6h-2zM748 317h6v2h-6zM442 317h2v2h-2zM518 317h2v2h-2zM644 317h9v2h-9zM975 317h9v2h-9zM635 317h2v2h-2zM480 317h2v2h-2zM887 313h2v9h-2zM923 313h2v9h-2zM716 313h2v9h-2zM1144 315h2v7h-2zM678 315h2v7h-2zM781 317h3v5h-3zM550 317h2v5h-2zM590 317h2v5h-2zM1108 317h2v5h-2zM997 319h3v3h-3zM444 319h2v3h-2zM984 319h9v3h-9zM752 319h7v3h-7zM520 319h3v3h-3zM635 319h9v3h-9zM482 319h2v3h-2zM363 313h2v11h-2zM1033 317h3v7h-3zM815 319h2v5h-2zM851 319h2v5h-2zM637 322h3v2h-3zM993 322h16v2h-16zM759 322h4v2h-4zM412 322h117v2h-117zM552 322h2v2h-2zM592 322h3v2h-3zM626 322h9v2h-9zM961 317h3v9h-3zM1072 319h2v7h-2zM784 322h2v4h-2zM1146 322h2v4h-2zM997 324h3v2h-3zM554 324h2v2h-2zM484 324h3v2h-3zM529 324h9v2h-9zM446 324h2v2h-2zM1009 324h18v2h-18zM1036 324h2v2h-2zM619 324h7v2h-7zM595 324h2v2h-2zM763 324h5v2h-5zM523 324h2v2h-2zM889 322h3v6h-3zM925 322h3v6h-3zM1110 322h2v6h-2zM718 322h3v6h-3zM613 326h6v2h-6zM1074 326h2v2h-2zM556 326h3v2h-3zM768 326h4v2h-4zM538 326h9v2h-9zM1027 326h29v2h-29zM680 322h2v9h-2zM754 322h3v9h-3zM853 324h3v7h-3zM640 324h2v7h-2zM817 324h3v7h-3zM525 326h2v5h-2zM597 326h2v5h-2zM786 326h2v5h-2zM487 326h2v5h-2zM1148 326h2v5h-2zM448 326h3v5h-3zM1112 328h2v3h-2zM1056 328h38v3h-38zM547 328h9v3h-9zM559 328h2v3h-2zM1036 328h2v3h-2zM604 328h9v3h-9zM772 328h5v3h-5zM340 322h3v11h-3zM385 322h3v11h-3zM1000 326h2v7h-2zM964 326h2v7h-2zM1094 331h38v2h-38zM1074 331h2v2h-2zM777 331h4v2h-4zM556 331h48v2h-48zM1150 331h3v2h-3zM928 328h2v7h-2zM892 328h2v7h-2zM451 331h2v4h-2zM527 331h2v4h-2zM820 331h2v4h-2zM788 331h2v4h-2zM489 331h2v4h-2zM1112 333h2v2h-2zM1132 333h21v2h-21zM599 333h2v2h-2zM781 333h5v2h-5zM721 328h2v9h-2zM856 331h2v6h-2zM642 331h2v6h-2zM682 331h3v6h-3zM1038 331h2v6h-2zM563 333h2v4h-2zM786 335h7v2h-7zM1150 335h3v2h-3zM408 328h2v12h-2zM757 331h2v9h-2zM1076 333h2v7h-2zM453 335h2v5h-2zM529 335h3v5h-3zM601 335h3v5h-3zM491 335h2v5h-2zM790 337h5v3h-5zM363 331h2v11h-2zM1002 333h2v9h-2zM966 333h2v9h-2zM1114 335h3v7h-3zM822 335h2v7h-2zM565 337h3v5h-3zM795 340h4v2h-4zM894 335h2v9h-2zM930 335h2v9h-2zM723 337h2v7h-2zM858 337h2v7h-2zM685 337h2v7h-2zM644 337h2v7h-2zM1153 337h2v7h-2zM493 340h3v4h-3zM455 340h2v4h-2zM532 340h2v4h-2zM790 340h3v4h-3zM799 342h5v2h-5zM1040 337h2v9h-2zM604 340h2v6h-2zM1078 340h3v6h-3zM759 340h2v6h-2zM568 342h2v4h-2zM804 344h4v2h-4zM824 342h2v7h-2zM968 342h2v7h-2zM1117 342h2v7h-2zM1004 342h2v7h-2zM534 344h2v5h-2zM496 344h2v5h-2zM457 344h3v5h-3zM808 346h5v3h-5zM340 340h3v11h-3zM385 340h3v11h-3zM896 344h2v7h-2zM1155 344h2v7h-2zM860 344h2v7h-2zM932 344h2v7h-2zM646 344h3v7h-3zM606 346h2v5h-2zM570 346h2v5h-2zM813 349h4v2h-4zM793 344h2v9h-2zM725 344h2v9h-2zM687 344h2v9h-2zM1081 346h2v7h-2zM1042 346h3v7h-3zM536 349h2v4h-2zM826 349h3v4h-3zM498 349h2v4h-2zM460 349h2v4h-2zM817 351h5v2h-5zM761 346h2v9h-2zM1119 349h2v6h-2zM1006 349h3v6h-3zM649 351h2v4h-2zM572 351h2v4h-2zM862 351h3v4h-3zM822 353h4v2h-4zM829 353h2v2h-2zM408 346h2v12h-2zM970 349h3v9h-3zM608 351h2v7h-2zM898 351h3v7h-3zM1157 351h2v7h-2zM462 353h2v5h-2zM538 353h3v5h-3zM500 353h2v5h-2zM826 355h9v3h-9zM363 349h2v11h-2zM934 351h3v9h-3zM689 353h2v7h-2zM1083 353h2v7h-2zM1045 353h2v7h-2zM727 353h3v7h-3zM574 355h3v5h-3zM835 358h9v2h-9zM829 358h2v2h-2zM795 353h2v9h-2zM865 355h2v7h-2zM651 355h2v7h-2zM1121 355h2v7h-2zM1009 355h2v7h-2zM464 358h2v4h-2zM610 358h3v4h-3zM541 358h2v4h-2zM502 358h3v4h-3zM844 360h9v2h-9zM763 355h3v9h-3zM973 358h2v6h-2zM1159 358h3v6h-3zM577 360h2v4h-2zM853 362h9v2h-9zM867 362h2v2h-2zM901 358h2v9h-2zM937 360h2v7h-2zM691 360h3v7h-3zM1047 360h2v7h-2zM505 362h2v5h-2zM466 362h3v5h-3zM543 362h2v5h-2zM862 364h9v3h-9zM340 358h3v11h-3zM385 358h3v11h-3zM730 360h2v9h-2zM1085 360h2v9h-2zM831 360h2v9h-2zM1123 362h3v7h-3zM1011 362h2v7h-2zM653 362h2v7h-2zM613 362h2v7h-2zM579 364h2v5h-2zM1162 364h2v5h-2zM435 367h117v2h-117zM871 367h9v2h-9zM797 362h2v9h-2zM867 367h2v4h-2zM552 369h13v2h-13zM469 369h2v2h-2zM880 369h7v2h-7zM766 364h2v9h-2zM975 364h2v9h-2zM939 367h2v6h-2zM903 367h2v6h-2zM1049 367h2v6h-2zM547 369h3v4h-3zM509 369h2v4h-2zM581 369h2v4h-2zM615 369h2v4h-2zM887 371h7v2h-7zM565 371h14v2h-14zM408 364h2v12h-2zM694 367h2v9h-2zM1164 369h2v7h-2zM732 369h2v7h-2zM1126 369h2v7h-2zM1087 369h3v7h-3zM655 369h3v7h-3zM471 371h2v5h-2zM905 373h2v3h-2zM894 373h9v3h-9zM579 373h9v3h-9zM363 367h2v11h-2zM833 369h2v9h-2zM1013 369h2v9h-2zM550 373h2v5h-2zM511 373h3v5h-3zM588 376h7v2h-7zM583 376h3v2h-3zM903 376h9v2h-9zM869 371h2v9h-2zM799 371h3v9h-3zM977 373h2v7h-2zM617 373h2v7h-2zM768 373h2v7h-2zM473 376h2v4h-2zM905 378h2v2h-2zM595 378h6v2h-6zM912 378h9v2h-9zM1051 373h3v9h-3zM941 373h2v9h-2zM658 376h2v6h-2zM1166 376h2v6h-2zM1128 376h2v6h-2zM696 376h2v6h-2zM1090 376h2v6h-2zM586 378h2v4h-2zM514 378h2v4h-2zM552 378h2v4h-2zM601 380h5v2h-5zM921 380h9v2h-9zM430 373h3v12h-3zM734 376h2v9h-2zM1015 378h3v7h-3zM475 380h3v5h-3zM619 380h3v5h-3zM660 382h2v3h-2zM606 382h7v3h-7zM930 382h9v3h-9zM943 382h3v3h-3zM698 382h2v3h-2zM340 376h3v11h-3zM385 376h3v11h-3zM835 378h3v9h-3zM554 382h2v5h-2zM588 382h2v5h-2zM516 382h2v5h-2zM939 385h11v2h-11zM613 385h6v2h-6zM622 385h2v2h-2zM642 385h76v2h-76zM736 385h3v2h-3zM979 380h3v9h-3zM907 380h3v9h-3zM871 380h3v9h-3zM802 380h2v9h-2zM770 380h2v9h-2zM1092 382h2v7h-2zM1168 382h3v7h-3zM1054 382h2v7h-2zM1130 382h2v7h-2zM478 385h2v4h-2zM660 387h2v2h-2zM556 387h3v2h-3zM619 387h23v2h-23zM518 387h2v2h-2zM943 387h3v2h-3zM950 387h14v2h-14zM698 387h2v2h-2zM718 387h23v2h-23zM1018 385h2v6h-2zM590 387h2v4h-2zM964 389h13v2h-13zM982 389h2v2h-2zM741 389h7v2h-7zM736 389h3v2h-3zM408 382h2v12h-2zM662 389h2v5h-2zM559 389h2v5h-2zM520 389h3v5h-3zM624 389h2v5h-2zM480 389h2v5h-2zM748 391h6v3h-6zM1020 391h2v3h-2zM977 391h25v3h-25zM363 385h2v11h-2zM838 387h2v9h-2zM700 389h3v7h-3zM1094 389h2v7h-2zM1056 389h2v7h-2zM1171 389h2v7h-2zM1132 389h3v7h-3zM592 391h3v5h-3zM982 394h2v2h-2zM1002 394h29v2h-29zM754 394h5v2h-5zM874 389h2v9h-2zM804 389h2v9h-2zM772 389h3v9h-3zM910 389h2v9h-2zM946 389h2v9h-2zM739 391h2v7h-2zM561 394h2v4h-2zM664 394h3v4h-3zM482 394h2v4h-2zM626 394h2v4h-2zM523 394h2v4h-2zM1020 396h2v2h-2zM759 396h7v2h-7zM1135 396h2v2h-2zM1096 396h3v2h-3zM1058 396h2v2h-2zM1031 396h18v2h-18zM1173 396h2v2h-2zM775 398h2v2h-2zM766 398h6v2h-6zM1049 398h126v2h-126zM430 391h3v12h-3zM703 396h2v7h-2zM840 396h2v7h-2zM595 396h2v7h-2zM525 398h2v5h-2zM484 398h3v5h-3zM628 398h3v5h-3zM563 398h2v5h-2zM667 398h2v5h-2zM1135 400h2v3h-2zM1096 400h3v3h-3zM1058 400h2v3h-2zM772 400h5v3h-5zM340 394h3v11h-3zM385 394h3v11h-3zM984 396h2v9h-2zM741 398h2v7h-2zM912 398h2v7h-2zM1173 400h2v5h-2zM775 403h6v2h-6zM876 398h2v9h-2zM948 398h2v9h-2zM806 398h2v9h-2zM1022 398h2v9h-2zM669 403h2v4h-2zM597 403h2v4h-2zM565 403h3v4h-3zM487 403h2v4h-2zM527 403h2v4h-2zM631 403h2v4h-2zM705 403h2v4h-2zM781 405h3v2h-3zM784 407h2v2h-2zM520 407h52v2h-52zM633 407h2v2h-2zM408 400h2v12h-2zM1060 403h3v9h-3zM1137 403h2v9h-2zM1099 403h2v9h-2zM842 403h2v9h-2zM743 405h2v7h-2zM777 405h2v7h-2zM599 407h2v5h-2zM489 407h2v5h-2zM786 409h4v3h-4zM568 409h2v3h-2zM572 409h5v3h-5zM529 409h3v3h-3zM502 409h18v3h-18zM363 403h2v11h-2zM1175 405h2v9h-2zM914 405h2v9h-2zM986 405h2v9h-2zM671 407h2v7h-2zM707 407h2v7h-2zM635 409h2v5h-2zM457 412h45v2h-45zM577 412h6v2h-6zM790 412h3v2h-3zM950 407h2v9h-2zM878 407h2v9h-2zM1024 407h3v9h-3zM808 407h3v9h-3zM570 412h2v4h-2zM601 412h3v4h-3zM532 412h2v4h-2zM583 414h5v2h-5zM793 414h4v2h-4zM491 414h2v2h-2zM745 412h3v6h-3zM779 412h2v6h-2zM637 414h3v4h-3zM673 414h3v4h-3zM797 416h2v2h-2zM588 416h4v2h-4zM430 409h3v12h-3zM1101 412h2v9h-2zM844 412h3v9h-3zM1063 412h2v9h-2zM1139 412h2v9h-2zM709 414h3v7h-3zM988 414h3v7h-3zM493 416h3v5h-3zM534 416h2v5h-2zM604 416h2v5h-2zM592 418h7v3h-7zM799 418h5v3h-5zM340 412h3v11h-3zM385 412h3v11h-3zM916 414h3v9h-3zM1177 414h3v9h-3zM1027 416h2v7h-2zM572 416h2v7h-2zM640 418h2v5h-2zM676 418h2v5h-2zM599 421h5v2h-5zM606 421h2v2h-2zM804 421h2v2h-2zM880 416h3v9h-3zM952 416h3v9h-3zM811 416h2v9h-2zM781 418h3v7h-3zM604 423h13v2h-13zM806 423h2v2h-2zM748 418h2v9h-2zM712 421h2v6h-2zM536 421h2v6h-2zM496 421h2v6h-2zM1065 421h2v6h-2zM574 423h3v4h-3zM678 423h2v4h-2zM642 423h2v4h-2zM606 425h2v2h-2zM808 425h7v2h-7zM617 425h18v2h-18zM408 418h2v12h-2zM1103 421h2v9h-2zM991 421h2v9h-2zM847 421h2v9h-2zM1141 421h3v9h-3zM453 423h2v7h-2zM813 427h4v3h-4zM635 427h16v3h-16zM363 421h2v11h-2zM919 423h2v9h-2zM1180 423h2v9h-2zM1029 423h2v9h-2zM784 425h2v7h-2zM680 427h2v5h-2zM538 427h3v5h-3zM813 430h2v2h-2zM651 430h13v2h-13zM644 430h2v2h-2zM817 430h7v2h-7zM955 425h2v9h-2zM883 425h2v9h-2zM750 427h2v7h-2zM577 427h2v7h-2zM608 427h2v7h-2zM714 427h2v7h-2zM498 427h2v7h-2zM664 432h14v2h-14zM824 432h7v2h-7zM682 432h3v2h-3zM1067 427h2v9h-2zM815 432h2v4h-2zM541 432h2v4h-2zM678 434h9v2h-9zM831 434h4v2h-4zM430 427h3v12h-3zM1144 430h2v9h-2zM1105 430h3v9h-3zM849 430h2v9h-2zM993 430h2v9h-2zM786 432h2v7h-2zM921 432h2v7h-2zM646 432h3v7h-3zM579 434h2v5h-2zM716 434h2v5h-2zM500 434h2v5h-2zM687 436h7v3h-7zM682 436h3v3h-3zM835 436h7v3h-7zM340 430h3v11h-3zM385 430h3v11h-3zM1031 432h2v9h-2zM1182 432h2v9h-2zM752 434h2v7h-2zM610 434h3v7h-3zM817 436h3v5h-3zM543 436h2v5h-2zM842 439h7v2h-7zM851 439h2v2h-2zM694 439h6v2h-6zM957 434h2v9h-2zM885 434h2v9h-2zM700 441h5v2h-5zM849 441h7v2h-7zM1069 436h3v9h-3zM502 439h3v6h-3zM649 439h2v6h-2zM581 439h2v6h-2zM1108 439h2v6h-2zM788 439h2v6h-2zM718 439h3v6h-3zM705 443h7v2h-7zM856 443h6v2h-6zM851 443h2v2h-2zM453 436h2v12h-2zM408 436h2v12h-2zM1146 439h2v9h-2zM685 439h2v9h-2zM923 439h2v9h-2zM995 439h2v9h-2zM545 441h2v7h-2zM754 441h3v7h-3zM820 441h2v7h-2zM613 441h2v7h-2zM721 445h2v3h-2zM862 445h7v3h-7zM712 445h6v3h-6zM363 439h2v11h-2zM1184 441h2v9h-2zM1033 441h3v9h-3zM505 445h2v5h-2zM583 445h3v5h-3zM869 448h5v2h-5zM718 448h9v2h-9zM887 443h2v9h-2zM959 443h2v9h-2zM853 445h3v7h-3zM651 445h2v7h-2zM790 445h3v7h-3zM547 448h3v4h-3zM822 448h2v4h-2zM721 450h2v2h-2zM874 450h6v2h-6zM727 450h9v2h-9zM1072 445h2v9h-2zM1110 445h2v9h-2zM997 448h3v6h-3zM687 448h2v6h-2zM757 448h2v6h-2zM615 448h2v6h-2zM889 452h3v2h-3zM736 452h9v2h-9zM880 452h7v2h-7zM430 445h3v12h-3zM1148 448h2v9h-2zM925 448h3v9h-3zM586 450h2v7h-2zM507 450h2v7h-2zM1036 450h2v7h-2zM824 452h2v5h-2zM856 452h2v5h-2zM550 452h2v5h-2zM745 454h9v3h-9zM887 454h14v3h-14zM759 454h2v3h-2zM340 448h3v11h-3zM385 448h3v11h-3zM1186 450h3v9h-3zM793 452h2v7h-2zM653 452h2v7h-2zM928 457h2v2h-2zM754 457h9v2h-9zM901 457h18v2h-18zM889 457h3v2h-3zM552 457h2v2h-2zM723 452h2v9h-2zM961 452h3v9h-3zM617 454h2v7h-2zM1074 454h2v7h-2zM588 457h2v4h-2zM826 457h3v4h-3zM763 459h9v2h-9zM919 459h13v2h-13zM550 459h13v2h-13zM689 454h2v9h-2zM1000 454h2v9h-2zM1112 454h2v9h-2zM858 457h2v6h-2zM509 457h2v6h-2zM759 459h2v4h-2zM932 461h7v2h-7zM928 461h2v2h-2zM590 461h2v2h-2zM772 461h7v2h-7zM541 461h9v2h-9zM563 461h18v2h-18zM552 461h2v2h-2zM453 454h2v12h-2zM408 454h2v12h-2zM1150 457h3v9h-3zM1038 457h2v9h-2zM795 459h2v7h-2zM892 459h2v7h-2zM779 463h7v3h-7zM581 463h11v3h-11zM534 463h7v3h-7zM939 463h7v3h-7zM363 457h2v11h-2zM1189 459h2v9h-2zM655 459h3v9h-3zM619 461h3v7h-3zM829 461h2v7h-2zM554 463h2v5h-2zM511 463h3v5h-3zM592 466h5v2h-5zM786 466h9v2h-9zM797 466h2v2h-2zM946 466h4v2h-4zM527 466h7v2h-7zM1076 461h2v9h-2zM725 461h2v9h-2zM964 461h2v9h-2zM691 463h3v7h-3zM860 463h2v7h-2zM514 468h2v2h-2zM597 468h2v2h-2zM518 468h9v2h-9zM795 468h7v2h-7zM950 468h7v2h-7zM592 468h3v2h-3zM761 463h2v9h-2zM1114 463h3v9h-3zM1002 463h2v9h-2zM930 463h2v9h-2zM894 466h2v6h-2zM556 468h3v4h-3zM831 468h2v4h-2zM599 470h2v2h-2zM957 470h7v2h-7zM509 470h9v2h-9zM966 470h2v2h-2zM802 470h9v2h-9zM430 463h3v12h-3zM1040 466h2v9h-2zM1153 466h2v9h-2zM658 468h2v7h-2zM622 468h2v7h-2zM797 470h2v5h-2zM595 470h2v5h-2zM862 470h3v5h-3zM514 472h2v3h-2zM811 472h6v3h-6zM601 472h5v3h-5zM1004 472h2v3h-2zM496 472h13v3h-13zM964 472h22v3h-22zM340 466h3v11h-3zM385 466h3v11h-3zM1191 468h2v9h-2zM833 472h2v5h-2zM559 472h2v5h-2zM606 475h2v2h-2zM597 475h2v2h-2zM482 475h14v2h-14zM1042 475h3v2h-3zM986 475h38v2h-38zM817 475h7v2h-7zM966 475h2v2h-2zM694 470h2v9h-2zM727 470h3v9h-3zM1078 470h3v9h-3zM896 472h2v7h-2zM932 472h2v7h-2zM516 475h2v4h-2zM824 477h9v2h-9zM835 477h3v2h-3zM1004 477h2v2h-2zM1024 477h30v2h-30zM480 477h2v2h-2zM608 477h5v2h-5zM763 472h3v9h-3zM1117 472h2v9h-2zM865 475h2v6h-2zM660 475h2v6h-2zM624 475h2v6h-2zM599 477h2v4h-2zM561 477h2v4h-2zM1081 479h2v2h-2zM1054 479h18v2h-18zM833 479h5v2h-5zM613 479h2v2h-2zM453 472h2v12h-2zM408 472h2v12h-2zM1155 475h2v9h-2zM799 475h3v9h-3zM968 477h2v7h-2zM1042 479h3v5h-3zM518 479h2v5h-2zM1072 481h29v3h-29zM615 481h4v3h-4zM835 481h7v3h-7zM1119 481h2v3h-2zM363 475h2v11h-2zM1193 477h2v9h-2zM898 479h3v7h-3zM696 479h2v7h-2zM934 479h3v7h-3zM601 481h3v5h-3zM563 481h2v5h-2zM835 484h3v2h-3zM619 484h3v2h-3zM1157 484h2v2h-2zM842 484h5v2h-5zM1101 484h38v2h-38zM730 479h2v9h-2zM1006 479h3v9h-3zM867 481h2v7h-2zM662 481h2v7h-2zM626 481h2v7h-2zM1081 484h2v4h-2zM520 484h3v4h-3zM847 486h2v2h-2zM622 486h2v2h-2zM1139 486h29v2h-29zM766 481h2v9h-2zM1195 486h3v4h-3zM565 486h3v4h-3zM901 486h2v4h-2zM604 486h2v4h-2zM1119 486h2v4h-2zM624 488h7v2h-7zM1168 488h18v2h-18zM849 488h4v2h-4zM430 481h3v12h-3zM970 484h3v9h-3zM1045 484h2v9h-2zM802 484h2v9h-2zM869 488h2v5h-2zM1157 488h2v5h-2zM523 488h2v5h-2zM606 490h2v3h-2zM628 490h7v3h-7zM853 490h5v3h-5zM1186 490h12v3h-12zM340 484h3v11h-3zM475 484h3v11h-3zM385 484h3v11h-3zM937 486h2v9h-2zM838 486h2v9h-2zM698 486h2v9h-2zM732 488h2v7h-2zM664 488h3v7h-3zM568 490h2v5h-2zM858 493h4v2h-4zM635 493h14v2h-14zM1195 493h3v2h-3zM628 493h3v2h-3zM1083 488h2v9h-2zM1009 488h2v9h-2zM903 490h2v7h-2zM525 493h2v4h-2zM608 493h2v4h-2zM649 495h13v2h-13zM862 495h3v2h-3zM667 495h2v2h-2zM768 490h2v9h-2zM1121 490h2v9h-2zM973 493h2v6h-2zM871 493h3v6h-3zM631 495h2v4h-2zM570 495h2v4h-2zM662 497h9v2h-9zM865 497h4v2h-4zM453 490h2v12h-2zM408 490h2v12h-2zM804 493h2v9h-2zM1159 493h3v9h-3zM1047 493h2v9h-2zM700 495h3v7h-3zM939 495h2v7h-2zM610 497h3v5h-3zM527 497h2v5h-2zM869 499h7v3h-7zM667 499h2v3h-2zM671 499h5v3h-5zM363 493h2v11h-2zM1198 495h2v9h-2zM734 495h2v9h-2zM905 497h2v7h-2zM633 499h2v5h-2zM572 499h2v5h-2zM676 502h6v2h-6zM604 502h11v2h-11zM874 502h4v2h-4zM840 495h2v11h-2zM1011 497h2v9h-2zM1085 497h2v9h-2zM975 499h2v7h-2zM529 502h3v4h-3zM878 504h5v2h-5zM574 504h3v2h-3zM682 504h5v2h-5zM613 504h4v2h-4zM586 504h18v2h-18zM1123 499h3v9h-3zM770 499h2v9h-2zM669 502h2v6h-2zM874 504h2v4h-2zM883 506h4v2h-4zM615 506h4v2h-4zM570 506h16v2h-16zM687 506h4v2h-4zM430 499h3v12h-3zM806 502h2v9h-2zM703 502h2v9h-2zM941 502h2v9h-2zM1162 502h2v9h-2zM907 504h3v7h-3zM635 504h2v7h-2zM532 506h2v5h-2zM619 508h3v3h-3zM561 508h9v3h-9zM691 508h7v3h-7zM615 508h2v3h-2zM887 508h5v3h-5zM340 502h3v11h-3zM475 502h3v11h-3zM385 502h3v11h-3zM1049 502h2v11h-2zM1200 504h2v9h-2zM736 504h3v9h-3zM577 508h2v5h-2zM892 511h4v2h-4zM622 511h2v2h-2zM698 511h5v2h-5zM705 511h2v2h-2zM552 511h9v2h-9zM977 506h2v9h-2zM1013 506h2v9h-2zM842 506h2v9h-2zM671 508h2v7h-2zM637 511h3v4h-3zM534 511h2v4h-2zM617 511h2v4h-2zM543 513h9v2h-9zM703 513h4v2h-4zM624 513h2v2h-2zM896 513h5v2h-5zM1087 506h3v11h-3zM772 508h3v9h-3zM1126 508h2v9h-2zM910 511h2v6h-2zM943 511h3v6h-3zM579 513h2v4h-2zM705 515h7v2h-7zM901 515h4v2h-4zM502 515h41v2h-41zM626 515h2v2h-2zM876 508h2v12h-2zM453 508h2v12h-2zM408 508h2v12h-2zM1164 511h2v9h-2zM619 515h3v5h-3zM640 515h2v5h-2zM628 517h3v3h-3zM905 517h5v3h-5zM581 517h2v3h-2zM912 517h2v3h-2zM712 517h4v3h-4zM363 511h2v11h-2zM808 511h3v11h-3zM1051 513h3v9h-3zM1202 513h2v9h-2zM739 513h2v9h-2zM979 515h3v7h-3zM673 515h3v7h-3zM1015 515h3v7h-3zM538 517h3v5h-3zM716 520h5v2h-5zM910 520h6v2h-6zM707 517h2v7h-2zM946 517h2v7h-2zM642 520h2v4h-2zM631 520h2v4h-2zM622 520h2v4h-2zM583 520h3v4h-3zM916 522h5v2h-5zM721 522h4v2h-4zM844 515h3v11h-3zM775 517h2v9h-2zM1128 517h2v9h-2zM1090 517h2v9h-2zM541 522h2v4h-2zM912 522h2v4h-2zM725 524h5v2h-5zM633 524h2v2h-2zM921 524h7v2h-7zM430 517h3v12h-3zM1166 520h2v9h-2zM878 520h2v9h-2zM982 522h2v7h-2zM676 522h2v7h-2zM586 524h2v5h-2zM624 524h2v5h-2zM730 526h4v3h-4zM635 526h2v3h-2zM928 526h4v3h-4zM340 520h3v11h-3zM475 520h3v11h-3zM385 520h3v11h-3zM1204 522h3v9h-3zM741 522h2v9h-2zM1054 522h2v9h-2zM811 522h2v9h-2zM1018 522h2v9h-2zM644 524h2v7h-2zM543 526h2v5h-2zM637 529h3v2h-3zM734 529h5v2h-5zM932 529h5v2h-5zM709 524h3v9h-3zM948 524h2v9h-2zM498 524h2v9h-2zM678 529h2v4h-2zM588 529h2v4h-2zM626 529h2v4h-2zM739 531h6v2h-6zM640 531h2v2h-2zM937 531h6v2h-6zM1092 526h2v9h-2zM847 526h2v9h-2zM777 526h2v9h-2zM914 526h2v9h-2zM545 531h2v4h-2zM646 531h3v4h-3zM743 533h5v2h-5zM943 533h5v2h-5zM642 533h2v2h-2zM950 533h2v2h-2zM590 533h2v2h-2zM453 526h2v12h-2zM408 526h2v12h-2zM1130 526h2v12h-2zM1168 529h3v9h-3zM984 529h2v9h-2zM628 533h3v5h-3zM649 535h2v3h-2zM743 535h2v3h-2zM748 535h4v3h-4zM948 535h7v3h-7zM644 535h2v3h-2zM363 529h2v11h-2zM880 529h3v11h-3zM813 531h2v9h-2zM1020 531h2v9h-2zM1207 531h2v9h-2zM1056 531h2v9h-2zM680 533h2v7h-2zM712 533h2v7h-2zM547 535h3v5h-3zM592 535h3v5h-3zM950 538h2v2h-2zM752 538h7v2h-7zM646 538h5v2h-5zM955 538h9v2h-9zM631 538h2v4h-2zM964 540h6v2h-6zM759 540h4v2h-4zM649 540h4v2h-4zM916 535h3v9h-3zM1094 535h2v9h-2zM779 535h2v9h-2zM986 538h2v6h-2zM550 540h2v4h-2zM595 540h2v4h-2zM651 542h2v2h-2zM970 542h7v2h-7zM763 542h5v2h-5zM430 535h3v12h-3zM849 535h2v12h-2zM745 538h3v9h-3zM1171 538h2v9h-2zM1132 538h3v9h-3zM682 540h3v7h-3zM714 540h2v7h-2zM633 542h2v5h-2zM977 544h9v3h-9zM768 544h7v3h-7zM988 544h3v3h-3zM653 544h5v3h-5zM595 544h22v3h-22zM340 538h3v11h-3zM475 538h3v11h-3zM385 538h3v11h-3zM815 540h2v9h-2zM1022 540h2v9h-2zM1209 540h2v9h-2zM952 540h3v9h-3zM781 544h3v5h-3zM552 544h2v5h-2zM597 547h2v2h-2zM986 547h7v2h-7zM653 547h2v2h-2zM617 547h20v2h-20zM588 547h7v2h-7zM658 547h4v2h-4zM775 547h4v2h-4zM498 540h2v11h-2zM1058 540h2v11h-2zM883 540h2v11h-2zM581 549h7v2h-7zM662 549h5v2h-5zM988 549h3v2h-3zM779 549h7v2h-7zM635 549h5v2h-5zM993 549h7v2h-7zM685 547h2v6h-2zM554 549h2v4h-2zM655 549h3v4h-3zM781 551h3v2h-3zM1000 551h6v2h-6zM667 551h4v2h-4zM637 551h5v2h-5zM786 551h7v2h-7zM577 551h4v2h-4zM919 544h2v12h-2zM453 544h2v12h-2zM1096 544h3v12h-3zM408 544h2v12h-2zM1135 547h2v9h-2zM748 547h2v9h-2zM716 547h2v9h-2zM851 547h2v9h-2zM1173 547h2v9h-2zM599 549h2v7h-2zM637 553h3v3h-3zM642 553h2v3h-2zM793 553h6v3h-6zM1006 553h5v3h-5zM570 553h7v3h-7zM671 553h5v3h-5zM363 547h2v11h-2zM817 549h3v9h-3zM1024 549h3v9h-3zM1211 549h2v9h-2zM955 549h2v9h-2zM658 553h2v5h-2zM556 553h3v5h-3zM563 556h7v2h-7zM799 556h5v2h-5zM676 556h4v2h-4zM1011 556h7v2h-7zM644 556h2v2h-2zM1060 551h3v9h-3zM885 551h2v9h-2zM991 551h2v9h-2zM687 553h2v7h-2zM1018 558h6v2h-6zM804 558h7v2h-7zM1027 558h2v2h-2zM556 558h7v2h-7zM680 558h5v2h-5zM646 558h3v2h-3zM784 553h2v9h-2zM750 556h2v6h-2zM640 556h2v6h-2zM601 556h3v6h-3zM718 556h3v6h-3zM660 558h2v4h-2zM820 558h2v4h-2zM811 560h6v2h-6zM649 560h2v2h-2zM552 560h4v2h-4zM559 560h2v2h-2zM1024 560h7v2h-7zM685 560h6v2h-6zM430 553h3v12h-3zM1175 556h2v9h-2zM1137 556h2v9h-2zM921 556h2v9h-2zM1099 556h2v9h-2zM689 562h2v3h-2zM651 562h2v3h-2zM662 562h2v3h-2zM1031 562h7v3h-7zM545 562h7v3h-7zM1027 562h2v3h-2zM817 562h7v3h-7zM853 556h3v11h-3zM340 556h3v11h-3zM475 556h3v11h-3zM385 556h3v11h-3zM957 558h2v9h-2zM1213 558h3v9h-3zM642 562h2v5h-2zM691 565h5v2h-5zM653 565h5v2h-5zM1038 565h7v2h-7zM541 565h4v2h-4zM820 565h2v2h-2zM824 565h5v2h-5zM498 558h2v11h-2zM1063 560h2v9h-2zM993 560h2v9h-2zM721 562h2v7h-2zM786 562h2v7h-2zM561 562h2v7h-2zM604 562h2v7h-2zM664 565h3v4h-3zM658 567h2v2h-2zM1045 567h4v2h-4zM829 567h4v2h-4zM691 567h3v2h-3zM696 567h2v2h-2zM536 567h5v2h-5zM887 560h2v11h-2zM752 562h2v9h-2zM660 569h2v2h-2zM1049 569h7v2h-7zM698 569h5v2h-5zM833 569h5v2h-5zM529 569h7v2h-7zM453 562h2v12h-2zM408 562h2v12h-2zM1101 565h2v9h-2zM1177 565h3v9h-3zM1139 565h2v9h-2zM923 565h2v9h-2zM1029 565h2v9h-2zM644 567h2v7h-2zM822 567h2v7h-2zM1065 569h2v5h-2zM694 569h2v5h-2zM667 569h2v5h-2zM838 571h4v3h-4zM662 571h2v3h-2zM703 571h2v3h-2zM525 571h4v3h-4zM1056 571h7v3h-7zM363 565h2v11h-2zM1216 567h2v9h-2zM856 567h2v9h-2zM959 567h2v9h-2zM606 569h2v7h-2zM563 569h2v7h-2zM788 569h2v7h-2zM669 574h2v2h-2zM705 574h4v2h-4zM842 574h5v2h-5zM1063 574h13v2h-13zM696 574h2v2h-2zM664 574h3v2h-3zM723 569h2v9h-2zM995 569h2v9h-2zM754 571h3v7h-3zM1103 574h2v4h-2zM1180 574h2v4h-2zM1141 574h3v4h-3zM646 574h3v4h-3zM847 576h4v2h-4zM1218 576h2v2h-2zM1076 576h18v2h-18zM1065 576h2v2h-2zM667 576h4v2h-4zM709 576h5v2h-5zM608 576h2v4h-2zM858 576h2v4h-2zM698 576h2v4h-2zM1094 578h126v2h-126zM851 578h5v2h-5zM714 578h2v2h-2zM669 578h4v2h-4zM430 571h3v12h-3zM889 571h3v12h-3zM824 574h2v9h-2zM1031 574h2v9h-2zM925 574h3v9h-3zM565 576h3v7h-3zM1103 580h2v3h-2zM1218 580h2v3h-2zM671 580h2v3h-2zM716 580h5v3h-5zM1180 580h2v3h-2zM856 580h4v3h-4zM1141 580h3v3h-3zM340 574h3v11h-3zM475 574h3v11h-3zM385 574h3v11h-3zM961 576h3v9h-3zM790 576h3v9h-3zM649 578h2v7h-2zM725 578h2v7h-2zM700 580h3v5h-3zM721 583h2v2h-2zM673 583h5v2h-5zM858 583h7v2h-7zM498 576h2v11h-2zM997 578h3v9h-3zM757 578h2v9h-2zM1067 578h2v9h-2zM610 580h3v7h-3zM865 585h2v2h-2zM673 585h3v2h-3zM723 585h7v2h-7zM678 585h4v2h-4zM568 583h2v6h-2zM826 583h3v6h-3zM651 585h2v4h-2zM703 585h2v4h-2zM682 587h5v2h-5zM867 587h2v2h-2zM727 587h3v2h-3zM453 580h2v12h-2zM408 580h2v12h-2zM1144 583h2v9h-2zM1105 583h3v9h-3zM1033 583h3v9h-3zM1220 583h2v9h-2zM892 583h2v9h-2zM1182 583h2v9h-2zM793 585h2v7h-2zM860 585h2v7h-2zM520 585h3v7h-3zM676 587h2v5h-2zM869 589h5v3h-5zM705 589h2v3h-2zM687 589h4v3h-4zM730 589h4v3h-4zM928 583h2v11h-2zM363 583h2v11h-2zM964 585h2v9h-2zM1000 587h2v7h-2zM613 587h2v7h-2zM570 589h2v5h-2zM691 592h5v2h-5zM730 592h2v2h-2zM874 592h2v2h-2zM734 592h2v2h-2zM1069 587h3v9h-3zM759 587h2v9h-2zM653 589h2v7h-2zM829 589h2v7h-2zM707 592h2v4h-2zM696 594h4v2h-4zM736 594h3v2h-3zM876 594h4v2h-4zM1184 592h2v6h-2zM678 592h2v6h-2zM1146 592h2v6h-2zM1108 592h2v6h-2zM1222 592h3v6h-3zM862 592h3v6h-3zM732 594h2v4h-2zM709 596h3v2h-3zM739 596h4v2h-4zM880 596h3v2h-3zM700 596h5v2h-5zM430 589h3v12h-3zM795 592h2v9h-2zM1036 592h2v9h-2zM572 594h2v7h-2zM615 594h2v7h-2zM655 596h3v5h-3zM705 598h7v3h-7zM743 598h2v3h-2zM883 598h4v3h-4zM734 598h2v3h-2zM894 592h2v11h-2zM340 592h3v11h-3zM475 592h3v11h-3zM385 592h3v11h-3zM1002 594h2v9h-2zM930 594h2v9h-2zM966 594h2v9h-2zM761 596h2v7h-2zM1072 596h2v7h-2zM680 598h2v5h-2zM658 601h2v2h-2zM745 601h5v2h-5zM887 601h2v2h-2zM709 601h5v2h-5zM498 594h2v11h-2zM831 596h2v9h-2zM865 598h2v7h-2zM736 601h3v4h-3zM750 603h2v2h-2zM896 603h2v2h-2zM889 603h3v2h-3zM712 603h6v2h-6zM653 603h7v2h-7zM1186 598h3v9h-3zM1148 598h2v9h-2zM1110 598h2v9h-2zM1225 598h2v9h-2zM574 601h3v6h-3zM617 601h2v6h-2zM797 601h2v6h-2zM892 605h6v2h-6zM718 605h5v2h-5zM658 605h4v2h-4zM640 605h13v2h-13zM739 605h2v2h-2zM752 605h5v2h-5zM453 598h2v12h-2zM520 598h3v12h-3zM408 598h2v12h-2zM1038 601h2v9h-2zM682 603h3v7h-3zM714 605h2v5h-2zM626 607h14v3h-14zM723 607h2v3h-2zM619 607h3v3h-3zM896 607h7v3h-7zM757 607h2v3h-2zM660 607h4v3h-4zM363 601h2v11h-2zM763 603h3v9h-3zM1074 603h2v9h-2zM968 603h2v9h-2zM1004 603h2v9h-2zM932 603h2v9h-2zM833 605h2v7h-2zM867 605h2v7h-2zM741 607h2v5h-2zM896 610h2v2h-2zM617 610h9v2h-9zM660 610h2v2h-2zM725 610h5v2h-5zM664 610h3v2h-3zM759 610h2v2h-2zM903 610h9v2h-9zM318 223h2v391h-2zM1112 607h2v7h-2zM1227 607h2v7h-2zM577 607h2v7h-2zM1189 607h2v7h-2zM1150 607h3v7h-3zM799 607h3v7h-3zM685 610h2v4h-2zM716 610h2v4h-2zM761 612h7v2h-7zM730 612h4v2h-4zM912 612h9v2h-9zM610 612h7v2h-7zM667 612h2v2h-2zM898 612h3v4h-3zM743 612h2v4h-2zM662 612h2v4h-2zM622 612h2v4h-2zM934 612h3v4h-3zM604 614h6v2h-6zM669 614h2v2h-2zM766 614h4v2h-4zM734 614h5v2h-5zM320 614h2v2h-2zM921 614h9v2h-9zM430 607h3v12h-3zM1040 610h2v9h-2zM835 612h3v7h-3zM599 616h5v3h-5zM289 616h11v3h-11zM930 616h11v3h-11zM219 616h4v3h-4zM671 616h2v3h-2zM768 616h11v3h-11zM253 616h11v3h-11zM322 616h3v3h-3zM745 616h3v3h-3zM739 616h2v3h-2zM235 616h11v3h-11zM340 610h3v11h-3zM475 610h3v11h-3zM385 610h3v11h-3zM970 612h3v9h-3zM869 612h2v9h-2zM1076 612h2v9h-2zM1006 612h3v9h-3zM579 614h2v7h-2zM718 614h3v7h-3zM687 614h2v7h-2zM624 616h2v5h-2zM664 616h3v5h-3zM592 619h7v2h-7zM779 619h7v2h-7zM673 619h3v2h-3zM217 619h6v2h-6zM748 619h2v2h-2zM768 619h2v2h-2zM325 619h2v2h-2zM934 619h3v2h-3zM741 619h4v2h-4zM941 619h14v2h-14zM498 612h2v11h-2zM1114 614h3v9h-3zM1229 614h2v9h-2zM1191 614h2v9h-2zM802 614h2v9h-2zM1153 614h2v9h-2zM901 616h2v7h-2zM955 621h13v2h-13zM745 621h5v2h-5zM586 621h6v2h-6zM973 621h2v2h-2zM676 621h4v2h-4zM581 621h2v2h-2zM327 621h4v2h-4zM786 621h7v2h-7zM689 621h2v4h-2zM721 621h2v4h-2zM937 621h2v4h-2zM626 621h2v4h-2zM770 621h2v4h-2zM667 621h2v4h-2zM750 623h2v2h-2zM680 623h2v2h-2zM793 623h9v2h-9zM804 623h2v2h-2zM331 623h3v2h-3zM579 623h7v2h-7zM968 623h11v2h-11zM453 616h2v12h-2zM520 616h3v12h-3zM408 616h2v12h-2zM1042 619h3v9h-3zM838 619h2v9h-2zM871 621h3v7h-3zM903 623h2v5h-2zM979 625h9v3h-9zM802 625h6v3h-6zM752 625h2v3h-2zM772 625h3v3h-3zM682 625h3v3h-3zM973 625h2v3h-2zM334 625h2v3h-2zM570 625h9v3h-9zM581 625h2v3h-2zM250 619h5v11h-5zM262 619h4v11h-4zM232 619h5v11h-5zM363 619h2v11h-2zM244 619h4v11h-4zM286 619h5v11h-5zM298 619h4v11h-4zM219 621h4v9h-4zM1078 621h3v9h-3zM1009 621h2v9h-2zM1193 623h2v7h-2zM1155 623h2v7h-2zM1117 623h2v7h-2zM1231 623h3v7h-3zM669 625h2v5h-2zM628 625h3v5h-3zM723 625h2v5h-2zM806 628h11v2h-11zM988 628h9v2h-9zM340 628h3v2h-3zM563 628h7v2h-7zM752 628h7v2h-7zM685 628h2v2h-2zM336 628h2v2h-2zM939 625h2v7h-2zM691 625h3v7h-3zM905 628h2v4h-2zM775 628h2v4h-2zM273 628h4v4h-4zM583 628h3v4h-3zM289 630h11v2h-11zM997 630h9v2h-9zM754 630h3v2h-3zM1011 630h2v2h-2zM806 630h2v2h-2zM214 630h14v2h-14zM253 630h11v2h-11zM556 630h7v2h-7zM338 630h5v2h-5zM759 630h2v2h-2zM235 630h11v2h-11zM817 630h7v2h-7zM687 630h2v2h-2zM874 628h2v6h-2zM840 628h2v6h-2zM975 628h2v6h-2zM671 630h2v4h-2zM631 630h2v4h-2zM725 630h2v4h-2zM689 632h2v2h-2zM761 632h2v2h-2zM340 632h3v2h-3zM547 632h9v2h-9zM824 632h7v2h-7zM694 632h2v2h-2zM757 632h2v2h-2zM1006 632h9v2h-9zM430 625h3v12h-3zM1045 628h2v9h-2zM1081 630h2v7h-2zM586 632h2v5h-2zM777 632h2v5h-2zM808 632h3v5h-3zM691 634h5v3h-5zM1011 634h2v3h-2zM1015 634h5v3h-5zM343 634h2v3h-2zM831 634h9v3h-9zM763 634h5v3h-5zM842 634h2v3h-2zM475 628h3v11h-3zM385 628h3v11h-3zM1195 630h3v9h-3zM1157 630h2v9h-2zM1234 630h2v9h-2zM1119 630h2v9h-2zM907 632h3v7h-3zM941 632h2v7h-2zM977 634h2v5h-2zM673 634h3v5h-3zM633 634h2v5h-2zM759 634h2v5h-2zM311 637h11v2h-11zM694 637h4v2h-4zM257 637h9v2h-9zM1020 637h7v2h-7zM275 637h11v2h-11zM768 637h2v2h-2zM811 637h2v2h-2zM345 637h2v2h-2zM840 637h7v2h-7zM498 630h2v11h-2zM876 634h2v7h-2zM727 634h3v7h-3zM588 637h2v4h-2zM1013 637h2v4h-2zM779 637h2v4h-2zM347 639h2v2h-2zM844 639h9v2h-9zM761 639h2v2h-2zM1027 639h4v2h-4zM696 639h4v2h-4zM770 639h2v2h-2zM813 639h2v4h-2zM910 639h2v4h-2zM264 639h4v4h-4zM943 639h3v4h-3zM255 639h4v4h-4zM635 639h2v4h-2zM676 639h2v4h-2zM781 641h3v2h-3zM853 641h7v2h-7zM1031 641h5v2h-5zM349 641h5v2h-5zM772 641h5v2h-5zM698 641h9v2h-9zM453 634h2v12h-2zM520 634h3v12h-3zM408 634h2v12h-2zM1083 637h2v9h-2zM1047 637h2v9h-2zM1236 639h2v7h-2zM979 639h3v7h-3zM1198 639h2v7h-2zM1159 639h3v7h-3zM1121 639h2v7h-2zM730 641h2v5h-2zM763 641h3v5h-3zM847 641h2v5h-2zM590 641h2v5h-2zM1036 643h6v3h-6zM707 643h7v3h-7zM860 643h5v3h-5zM815 643h2v3h-2zM354 643h2v3h-2zM777 643h2v3h-2zM257 643h11v3h-11zM698 643h2v3h-2zM363 637h2v11h-2zM878 641h2v7h-2zM1015 641h3v7h-3zM637 643h3v5h-3zM678 643h2v5h-2zM784 643h2v5h-2zM714 646h4v2h-4zM865 646h6v2h-6zM849 646h2v2h-2zM766 646h2v2h-2zM264 646h4v2h-4zM779 646h2v2h-2zM1042 646h5v2h-5zM356 646h2v2h-2zM1049 646h2v2h-2zM309 639h4v11h-4zM320 639h5v11h-5zM284 639h5v11h-5zM273 639h4v11h-4zM912 643h2v7h-2zM946 643h2v7h-2zM700 646h3v4h-3zM732 646h2v4h-2zM817 646h3v4h-3zM592 646h3v4h-3zM871 648h7v2h-7zM358 648h3v2h-3zM680 648h2v2h-2zM718 648h7v2h-7zM781 648h7v2h-7zM262 648h4v2h-4zM880 648h3v2h-3zM1047 648h9v2h-9zM768 648h2v2h-2zM851 648h2v2h-2zM543 643h2v9h-2zM982 646h2v6h-2zM640 648h2v4h-2zM295 648h5v4h-5zM1018 648h2v4h-2zM725 650h7v2h-7zM311 650h11v2h-11zM361 650h2v2h-2zM786 650h2v2h-2zM703 650h2v2h-2zM257 650h7v2h-7zM275 650h11v2h-11zM734 650h2v2h-2zM1056 650h9v2h-9zM878 650h7v2h-7zM662 650h20v2h-20zM430 643h3v12h-3zM1123 646h3v9h-3zM1238 646h2v9h-2zM1085 646h2v9h-2zM1200 646h2v9h-2zM1162 646h2v9h-2zM853 650h3v5h-3zM1051 650h3v5h-3zM948 650h2v5h-2zM820 650h2v5h-2zM914 650h2v5h-2zM595 650h2v5h-2zM770 650h2v5h-2zM788 652h7v3h-7zM732 652h22v3h-22zM640 652h22v3h-22zM680 652h7v3h-7zM883 652h11v3h-11zM363 652h2v3h-2zM1065 652h9v3h-9zM475 646h3v11h-3zM385 646h3v11h-3zM1020 652h2v5h-2zM984 652h2v5h-2zM705 652h2v5h-2zM795 655h11v2h-11zM754 655h39v2h-39zM1164 655h2v2h-2zM885 655h2v2h-2zM856 655h2v2h-2zM1074 655h9v2h-9zM1126 655h2v2h-2zM894 655h7v2h-7zM642 655h2v2h-2zM635 655h5v2h-5zM1240 655h3v2h-3zM1087 655h3v2h-3zM365 655h2v2h-2zM1202 655h2v2h-2zM822 655h2v2h-2zM687 655h2v2h-2zM498 648h2v11h-2zM916 655h3v4h-3zM597 655h2v4h-2zM682 655h3v4h-3zM1054 655h2v4h-2zM736 655h3v4h-3zM689 657h2v2h-2zM367 657h3v2h-3zM824 657h2v2h-2zM887 657h2v2h-2zM1083 657h160v2h-160zM334 657h11v2h-11zM775 657h2v2h-2zM858 657h2v2h-2zM280 657h9v2h-9zM628 657h7v2h-7zM793 657h24v2h-24zM298 657h11v2h-11zM901 657h6v2h-6zM950 655h2v6h-2zM644 657h2v4h-2zM707 657h2v4h-2zM691 659h5v2h-5zM370 659h2v2h-2zM889 659h5v2h-5zM907 659h9v2h-9zM919 659h2v2h-2zM624 659h4v2h-4zM813 659h18v2h-18zM739 659h2v2h-2zM453 652h2v12h-2zM520 652h3v12h-3zM408 652h2v12h-2zM1022 657h2v7h-2zM986 657h2v7h-2zM1204 659h3v5h-3zM599 659h2v5h-2zM1166 659h2v5h-2zM1128 659h2v5h-2zM1056 659h2v5h-2zM860 659h2v5h-2zM1243 659h2v5h-2zM777 659h2v5h-2zM286 659h5v5h-5zM277 659h5v5h-5zM1090 659h2v5h-2zM619 661h5v3h-5zM894 661h2v3h-2zM372 661h4v3h-4zM741 661h2v3h-2zM815 661h2v3h-2zM916 661h7v3h-7zM696 661h2v3h-2zM822 661h22v3h-22zM685 659h2v7h-2zM709 661h3v5h-3zM896 664h2v2h-2zM1207 664h2v2h-2zM613 664h6v2h-6zM1092 664h2v2h-2zM280 664h9v2h-9zM1168 664h3v2h-3zM817 664h3v2h-3zM698 664h5v2h-5zM838 664h22v2h-22zM921 664h9v2h-9zM1130 664h2v2h-2zM1245 664h2v2h-2zM779 664h2v2h-2zM376 664h3v2h-3zM862 664h3v2h-3zM952 661h3v7h-3zM646 661h3v7h-3zM743 664h2v4h-2zM1024 664h3v4h-3zM601 664h3v4h-3zM1058 664h2v4h-2zM781 666h3v2h-3zM851 666h27v2h-27zM712 666h2v2h-2zM898 666h3v2h-3zM923 666h5v2h-5zM703 666h2v2h-2zM379 666h2v2h-2zM820 666h2v2h-2zM930 666h7v2h-7zM608 666h5v2h-5zM331 659h5v11h-5zM343 659h4v11h-4zM295 659h5v11h-5zM307 659h4v11h-4zM543 659h2v11h-2zM988 664h3v6h-3zM385 664h3v6h-3zM1247 666h2v4h-2zM1094 666h2v4h-2zM1209 666h2v4h-2zM1171 666h2v4h-2zM286 666h5v4h-5zM277 666h5v4h-5zM1132 666h3v4h-3zM687 666h2v4h-2zM601 668h7v2h-7zM381 668h2v2h-2zM928 668h2v2h-2zM856 668h2v2h-2zM705 668h4v2h-4zM745 668h3v2h-3zM901 668h2v2h-2zM937 668h4v2h-4zM876 668h18v2h-18zM430 661h3v12h-3zM1060 668h3v5h-3zM784 668h2v5h-2zM649 668h2v5h-2zM714 668h2v5h-2zM318 668h4v5h-4zM955 668h2v5h-2zM822 668h2v5h-2zM709 670h3v3h-3zM858 670h4v3h-4zM383 670h5v3h-5zM334 670h11v3h-11zM1135 670h2v3h-2zM1249 670h3v3h-3zM892 670h18v3h-18zM930 670h2v3h-2zM280 670h9v3h-9zM1096 670h3v3h-3zM1211 670h2v3h-2zM604 670h2v3h-2zM597 670h4v3h-4zM941 670h7v3h-7zM298 670h11v3h-11zM1173 670h2v3h-2zM475 664h3v11h-3zM1027 668h2v7h-2zM991 670h2v5h-2zM748 670h2v5h-2zM957 673h2v2h-2zM824 673h2v2h-2zM712 673h2v2h-2zM786 673h2v2h-2zM896 673h7v2h-7zM907 673h14v2h-14zM948 673h7v2h-7zM385 673h3v2h-3zM716 673h2v2h-2zM932 673h2v2h-2zM590 673h7v2h-7zM862 673h3v2h-3zM498 666h2v11h-2zM689 670h2v7h-2zM606 673h2v4h-2zM1175 673h2v4h-2zM1063 673h2v4h-2zM651 673h2v4h-2zM1137 673h2v4h-2zM1252 673h2v4h-2zM1099 673h2v4h-2zM1213 673h3v4h-3zM750 675h2v2h-2zM865 675h2v2h-2zM714 675h4v2h-4zM934 675h5v2h-5zM826 675h3v2h-3zM903 675h4v2h-4zM919 675h13v2h-13zM586 675h4v2h-4zM788 675h2v2h-2zM955 675h9v2h-9zM388 675h2v2h-2zM1029 675h2v4h-2zM1101 677h2v2h-2zM1216 677h2v2h-2zM390 677h2v2h-2zM320 677h11v2h-11zM718 677h7v2h-7zM752 677h2v2h-2zM581 677h5v2h-5zM1177 677h3v2h-3zM892 677h24v2h-24zM928 677h13v2h-13zM356 677h11v2h-11zM829 677h2v2h-2zM1139 677h2v2h-2zM959 677h14v2h-14zM1254 677h2v2h-2zM300 677h13v2h-13zM867 677h4v2h-4zM453 670h2v12h-2zM520 670h3v12h-3zM408 670h2v12h-2zM993 675h2v7h-2zM608 677h2v5h-2zM691 677h3v5h-3zM1065 677h2v5h-2zM790 677h3v5h-3zM725 679h14v3h-14zM300 679h4v3h-4zM392 679h2v3h-2zM964 679h4v3h-4zM574 679h7v3h-7zM916 679h14v3h-14zM973 679h9v3h-9zM912 679h2v3h-2zM934 679h16v3h-16zM853 679h39v3h-39zM831 679h2v3h-2zM653 677h2v7h-2zM309 679h4v5h-4zM1256 679h2v5h-2zM721 679h2v5h-2zM1103 679h2v5h-2zM1031 679h2v5h-2zM1218 679h2v5h-2zM754 679h3v5h-3zM1180 679h2v5h-2zM1141 679h3v5h-3zM815 682h38v2h-38zM793 682h2v2h-2zM739 682h13v2h-13zM968 682h2v2h-2zM570 682h4v2h-4zM394 682h5v2h-5zM982 682h9v2h-9zM930 682h16v2h-16zM914 682h2v2h-2zM995 682h2v2h-2zM876 682h4v2h-4zM948 682h11v2h-11zM610 682h3v4h-3zM1067 682h2v4h-2zM991 684h24v2h-24zM1144 684h2v2h-2zM916 684h3v2h-3zM1258 684h3v2h-3zM880 684h5v2h-5zM1105 684h3v2h-3zM752 684h63v2h-63zM943 684h12v2h-12zM1033 684h3v2h-3zM1220 684h2v2h-2zM307 684h4v2h-4zM399 684h2v2h-2zM957 684h18v2h-18zM1182 684h2v2h-2zM835 684h5v2h-5zM543 677h2v11h-2zM694 682h2v6h-2zM723 684h2v4h-2zM655 684h3v4h-3zM997 686h3v2h-3zM401 686h2v2h-2zM966 686h13v2h-13zM950 686h2v2h-2zM797 686h2v2h-2zM840 686h2v2h-2zM1015 686h30v2h-30zM885 686h4v2h-4zM955 686h9v2h-9zM919 686h4v2h-4zM329 679h5v12h-5zM430 679h3v12h-3zM354 679h4v12h-4zM365 679h5v12h-5zM318 679h4v12h-4zM1069 686h3v5h-3zM1184 686h2v5h-2zM1146 686h2v5h-2zM1261 686h2v5h-2zM1108 686h2v5h-2zM1222 686h3v5h-3zM613 686h2v5h-2zM759 686h2v5h-2zM889 688h5v3h-5zM1045 688h18v3h-18zM964 688h24v3h-24zM403 688h3v3h-3zM842 688h5v3h-5zM952 688h3v3h-3zM923 688h2v3h-2zM725 688h2v3h-2zM1000 688h4v3h-4zM408 688h2v3h-2zM475 682h3v11h-3zM304 686h5v7h-5zM1036 688h2v5h-2zM696 688h2v5h-2zM799 688h3v5h-3zM340 688h5v5h-5zM1063 691h202v2h-202zM320 691h11v2h-11zM761 691h2v2h-2zM973 691h24v2h-24zM889 691h12v2h-12zM406 691h4v2h-4zM847 691h2v2h-2zM1004 691h2v2h-2zM356 691h11v2h-11zM955 691h2v2h-2zM925 691h3v2h-3zM498 684h2v11h-2zM658 688h2v7h-2zM727 691h3v4h-3zM615 691h2v4h-2zM896 693h2v2h-2zM928 693h2v2h-2zM763 693h3v2h-3zM849 693h2v2h-2zM876 693h13v2h-13zM957 693h4v2h-4zM408 693h2v2h-2zM982 693h27v2h-27zM1038 693h2v2h-2zM802 693h2v2h-2zM901 693h13v2h-13zM1112 693h2v4h-2zM1227 693h2v4h-2zM1074 693h2v4h-2zM1189 693h2v4h-2zM1150 693h3v4h-3zM1265 693h2v4h-2zM410 695h2v2h-2zM914 695h14v2h-14zM804 695h2v2h-2zM862 695h14v2h-14zM961 695h3v2h-3zM930 695h2v2h-2zM851 695h5v2h-5zM988 695h14v2h-14zM1006 695h5v2h-5zM453 688h2v12h-2zM520 688h3v12h-3zM698 693h2v7h-2zM730 695h2v5h-2zM1040 695h2v5h-2zM617 695h2v5h-2zM660 695h2v5h-2zM898 695h3v5h-3zM766 695h2v5h-2zM853 697h9v3h-9zM1000 697h9v3h-9zM993 697h4v3h-4zM1267 697h3v3h-3zM343 697h11v3h-11zM1114 697h3v3h-3zM412 697h3v3h-3zM1229 697h2v3h-2zM327 697h7v3h-7zM1076 697h2v3h-2zM1191 697h2v3h-2zM379 697h11v3h-11zM964 697h2v3h-2zM928 697h11v3h-11zM1011 697h4v3h-4zM1153 697h2v3h-2zM565 691h3v11h-3zM806 697h2v5h-2zM997 700h3v2h-3zM849 700h4v2h-4zM1006 700h14v2h-14zM1042 700h3v2h-3zM858 700h2v2h-2zM325 700h4v2h-4zM901 700h2v2h-2zM415 700h2v2h-2zM939 700h13v2h-13zM768 700h2v2h-2zM934 700h3v2h-3zM966 700h2v2h-2zM700 700h3v4h-3zM732 700h2v4h-2zM1155 700h2v4h-2zM1193 700h2v4h-2zM619 700h3v4h-3zM1270 700h2v4h-2zM662 700h2v4h-2zM1117 700h2v4h-2zM1231 700h3v4h-3zM1078 700h3v4h-3zM322 702h5v2h-5zM1013 702h11v2h-11zM968 702h2v2h-2zM842 702h7v2h-7zM417 702h4v2h-4zM1000 702h4v2h-4zM808 702h3v2h-3zM903 702h2v2h-2zM952 702h14v2h-14zM543 695h2v11h-2zM937 702h2v4h-2zM860 702h2v4h-2zM1045 702h2v4h-2zM770 702h2v4h-2zM1081 704h2v2h-2zM322 704h12v2h-12zM1195 704h3v2h-3zM421 704h3v2h-3zM838 704h4v2h-4zM1004 704h5v2h-5zM703 704h2v2h-2zM1157 704h2v2h-2zM1272 704h2v2h-2zM734 704h2v2h-2zM966 704h25v2h-25zM1234 704h2v2h-2zM664 704h3v2h-3zM1022 704h7v2h-7zM811 704h2v2h-2zM1119 704h2v2h-2zM430 697h3v12h-3zM905 704h2v5h-2zM622 704h2v5h-2zM991 706h24v3h-24zM772 706h3v3h-3zM939 706h2v3h-2zM660 706h49v3h-49zM424 706h2v3h-2zM973 706h2v3h-2zM1047 706h2v3h-2zM833 706h5v3h-5zM862 706h3v3h-3zM1027 706h6v3h-6zM352 700h4v11h-4zM475 700h3v11h-3zM376 700h5v11h-5zM388 700h4v11h-4zM340 700h5v11h-5zM813 706h2v5h-2zM1236 706h2v5h-2zM331 706h5v5h-5zM322 706h5v5h-5zM1083 706h2v5h-2zM1198 706h2v5h-2zM1159 706h3v5h-3zM736 706h3v5h-3zM1274 706h2v5h-2zM1121 706h2v5h-2zM709 709h9v2h-9zM1015 709h14v2h-14zM865 709h2v2h-2zM1031 709h9v2h-9zM907 709h3v2h-3zM646 709h14v2h-14zM775 709h2v2h-2zM1011 709h2v2h-2zM703 709h2v2h-2zM941 709h2v2h-2zM426 709h2v2h-2zM826 709h7v2h-7zM498 702h2v11h-2zM1049 709h2v4h-2zM363 709h4v4h-4zM624 709h2v4h-2zM975 709h2v4h-2zM667 709h2v4h-2zM633 711h13v2h-13zM1029 711h16v2h-16zM1123 711h3v2h-3zM343 711h11v2h-11zM718 711h9v2h-9zM1238 711h2v2h-2zM1085 711h2v2h-2zM815 711h2v2h-2zM910 711h2v2h-2zM1200 711h2v2h-2zM822 711h4v2h-4zM379 711h11v2h-11zM428 711h2v2h-2zM325 711h9v2h-9zM1162 711h2v2h-2zM1276 711h3v2h-3zM867 711h2v4h-2zM1013 711h2v4h-2zM705 711h2v4h-2zM777 711h2v4h-2zM943 711h3v4h-3zM739 711h2v4h-2zM977 713h2v2h-2zM430 713h3v2h-3zM669 713h2v2h-2zM1051 713h3v2h-3zM592 713h41v2h-41zM1038 713h11v2h-11zM727 713h9v2h-9zM799 713h23v2h-23zM453 706h2v12h-2zM520 706h3v12h-3zM1164 713h2v5h-2zM1279 713h2v5h-2zM1126 713h2v5h-2zM1240 713h3v5h-3zM1087 713h3v5h-3zM912 713h2v5h-2zM1202 713h2v5h-2zM979 715h3v3h-3zM628 715h3v3h-3zM433 715h2v3h-2zM671 715h2v3h-2zM869 715h2v3h-2zM1054 715h2v3h-2zM1015 715h3v3h-3zM820 715h2v3h-2zM1040 715h11v3h-11zM736 715h63v3h-63zM946 715h2v3h-2zM565 709h3v11h-3zM707 715h2v5h-2zM1204 718h3v2h-3zM741 718h2v2h-2zM345 718h13v2h-13zM948 718h2v2h-2zM1281 718h2v2h-2zM1045 718h11v2h-11zM435 718h2v2h-2zM365 718h11v2h-11zM1166 718h2v2h-2zM631 718h2v2h-2zM1128 718h2v2h-2zM1243 718h2v2h-2zM871 718h3v2h-3zM914 718h2v2h-2zM1018 718h2v2h-2zM401 718h11v2h-11zM1090 718h2v2h-2zM781 718h3v4h-3zM982 718h2v4h-2zM673 718h3v4h-3zM822 718h2v4h-2zM912 720h11v2h-11zM345 720h4v2h-4zM633 720h2v2h-2zM437 720h2v2h-2zM1049 720h18v2h-18zM543 713h2v11h-2zM709 720h3v4h-3zM874 720h2v4h-2zM1020 720h2v4h-2zM1207 720h2v4h-2zM1092 720h2v4h-2zM743 720h2v4h-2zM950 720h2v4h-2zM1168 720h3v4h-3zM1283 720h2v4h-2zM1130 720h2v4h-2zM1245 720h2v4h-2zM923 722h14v2h-14zM824 722h2v2h-2zM919 722h2v2h-2zM1067 722h18v2h-18zM345 722h11v2h-11zM439 722h5v2h-5zM984 722h2v2h-2zM898 722h14v2h-14zM1051 722h12v2h-12zM635 722h2v2h-2zM676 722h2v2h-2zM784 722h2v5h-2zM1085 724h203v3h-203zM876 724h2v3h-2zM444 724h2v3h-2zM1022 724h2v3h-2zM826 724h3v3h-3zM885 724h13v3h-13zM937 724h13v3h-13zM1056 724h9v3h-9zM952 724h3v3h-3zM986 724h2v3h-2zM475 718h3v11h-3zM637 724h3v5h-3zM678 724h2v5h-2zM712 724h2v5h-2zM745 724h3v5h-3zM921 724h2v5h-2zM950 727h11v2h-11zM1065 727h4v2h-4zM876 727h9v2h-9zM786 727h2v2h-2zM1058 727h5v2h-5zM446 727h2v2h-2zM1024 727h3v2h-3zM363 720h4v11h-4zM588 720h2v11h-2zM374 720h5v11h-5zM498 720h2v11h-2zM399 720h4v11h-4zM410 720h5v11h-5zM354 724h4v7h-4zM453 724h2v7h-2zM1288 727h2v4h-2zM988 727h3v4h-3zM1135 727h2v4h-2zM1249 727h3v4h-3zM1096 727h3v4h-3zM829 727h2v4h-2zM1211 727h2v4h-2zM1173 727h2v4h-2zM957 729h2v2h-2zM680 729h2v2h-2zM1067 729h5v2h-5zM871 729h5v2h-5zM640 729h2v2h-2zM345 729h4v2h-4zM880 729h3v2h-3zM923 729h2v2h-2zM961 729h14v2h-14zM1060 729h5v2h-5zM448 729h3v2h-3zM385 729h5v4h-5zM714 729h2v4h-2zM1027 729h2v4h-2zM748 729h2v4h-2zM788 729h2v4h-2zM347 731h9v2h-9zM1213 731h3v2h-3zM1175 731h2v2h-2zM975 731h13v2h-13zM1290 731h2v2h-2zM991 731h2v2h-2zM365 731h11v2h-11zM642 731h2v2h-2zM865 731h6v2h-6zM682 731h3v2h-3zM1137 731h2v2h-2zM451 731h4v2h-4zM1252 731h2v2h-2zM1099 731h2v2h-2zM831 731h2v2h-2zM401 731h11v2h-11zM925 731h3v2h-3zM1063 731h11v2h-11zM520 724h3v12h-3zM959 731h2v5h-2zM883 731h2v5h-2zM833 733h2v3h-2zM1101 733h2v3h-2zM1216 733h2v3h-2zM928 733h2v3h-2zM860 733h5v3h-5zM453 733h2v3h-2zM1177 733h3v3h-3zM1292 733h2v3h-2zM1139 733h2v3h-2zM1254 733h2v3h-2zM644 733h2v3h-2zM1065 733h13v3h-13zM988 733h25v3h-25zM1029 733h2v3h-2zM565 727h3v11h-3zM750 733h2v5h-2zM685 733h2v5h-2zM716 733h2v5h-2zM790 733h3v5h-3zM885 736h2v2h-2zM1013 736h38v2h-38zM1067 736h5v2h-5zM961 736h3v2h-3zM455 736h2v2h-2zM930 736h2v2h-2zM1074 736h7v2h-7zM995 736h2v2h-2zM856 736h4v2h-4zM646 736h3v2h-3zM1256 736h2v4h-2zM1103 736h2v4h-2zM1218 736h2v4h-2zM835 736h3v4h-3zM1180 736h2v4h-2zM1294 736h3v4h-3zM1141 736h3v4h-3zM997 738h3v2h-3zM424 738h11v2h-11zM887 738h2v2h-2zM1033 738h3v2h-3zM388 738h11v2h-11zM1051 738h34v2h-34zM457 738h3v2h-3zM964 738h2v2h-2zM849 738h7v2h-7zM374 738h7v2h-7zM615 738h76v2h-76zM543 731h2v11h-2zM793 738h2v4h-2zM752 738h2v4h-2zM932 738h2v4h-2zM718 738h3v4h-3zM1000 740h2v2h-2zM689 740h9v2h-9zM1144 740h2v2h-2zM1081 740h9v2h-9zM1072 740h2v2h-2zM1258 740h3v2h-3zM651 740h2v2h-2zM1105 740h3v2h-3zM372 740h9v2h-9zM838 740h2v2h-2zM889 740h3v2h-3zM1076 740h2v2h-2zM1220 740h2v2h-2zM844 740h5v2h-5zM1182 740h2v2h-2zM460 740h2v2h-2zM966 740h2v2h-2zM1297 740h2v2h-2zM1036 740h2v5h-2zM968 742h2v3h-2zM698 742h7v3h-7zM795 742h2v3h-2zM1002 742h2v3h-2zM1090 742h4v3h-4zM1074 742h7v3h-7zM892 742h2v3h-2zM370 742h4v3h-4zM934 742h3v3h-3zM1083 742h4v3h-4zM462 742h4v3h-4zM838 742h6v3h-6zM475 736h3v11h-3zM1184 742h2v5h-2zM721 742h2v5h-2zM1299 742h2v5h-2zM754 742h3v5h-3zM691 742h3v5h-3zM1146 742h2v5h-2zM1261 742h2v5h-2zM376 742h5v5h-5zM653 742h2v5h-2zM1108 742h2v5h-2zM1222 742h3v5h-3zM1085 745h5v2h-5zM1074 745h2v2h-2zM705 745h4v2h-4zM1078 745h5v2h-5zM466 745h3v2h-3zM842 745h5v2h-5zM829 745h9v2h-9zM367 745h5v2h-5zM1038 745h2v2h-2zM1094 745h5v2h-5zM588 738h2v11h-2zM498 738h2v11h-2zM894 745h2v4h-2zM970 745h3v4h-3zM797 745h2v4h-2zM1004 745h2v4h-2zM367 747h16v2h-16zM1040 747h2v2h-2zM847 747h4v2h-4zM1186 747h3v2h-3zM822 747h7v2h-7zM723 747h2v2h-2zM1301 747h2v2h-2zM1087 747h5v2h-5zM709 747h7v2h-7zM1099 747h4v2h-4zM1076 747h2v2h-2zM694 747h2v2h-2zM1148 747h2v2h-2zM1263 747h2v2h-2zM1081 747h4v2h-4zM469 747h2v2h-2zM655 747h3v2h-3zM1110 747h2v2h-2zM1225 747h2v2h-2zM433 740h4v11h-4zM385 740h5v11h-5zM397 740h4v11h-4zM421 740h5v11h-5zM757 747h2v4h-2zM471 749h2v2h-2zM658 749h2v2h-2zM1112 749h2v2h-2zM896 749h2v2h-2zM1227 749h2v2h-2zM1042 749h3v2h-3zM1189 749h2v2h-2zM376 749h5v2h-5zM973 749h2v2h-2zM1303 749h3v2h-3zM815 749h7v2h-7zM696 749h2v2h-2zM1150 749h3v2h-3zM716 749h9v2h-9zM1078 749h3v2h-3zM1083 749h4v2h-4zM1265 749h2v2h-2zM851 749h2v2h-2zM1103 749h5v2h-5zM1090 749h2v2h-2zM1006 749h3v2h-3zM520 742h3v12h-3zM408 749h4v5h-4zM799 749h3v5h-3zM1085 751h5v3h-5zM424 751h11v3h-11zM1081 751h2v3h-2zM473 751h2v3h-2zM1092 751h2v3h-2zM660 751h2v3h-2zM1114 751h3v3h-3zM723 751h9v3h-9zM1108 751h4v3h-4zM806 751h9v3h-9zM388 751h11v3h-11zM1045 751h2v3h-2zM374 751h9v3h-9zM853 751h5v3h-5zM698 751h2v3h-2zM1009 751h2v3h-2zM565 745h3v11h-3zM610 749h3v7h-3zM1267 751h3v5h-3zM1229 751h2v5h-2zM1191 751h2v5h-2zM1153 751h2v5h-2zM759 751h2v5h-2zM1306 751h2v5h-2zM858 754h4v2h-4zM700 754h3v2h-3zM1083 754h2v2h-2zM732 754h9v2h-9zM1011 754h2v2h-2zM475 754h3v2h-3zM662 754h2v2h-2zM797 754h9v2h-9zM1087 754h9v2h-9zM727 754h3v2h-3zM1112 754h5v2h-5zM1047 754h2v4h-2zM478 756h2v2h-2zM730 756h2v2h-2zM784 756h13v2h-13zM1092 756h7v2h-7zM1117 756h193v2h-193zM741 756h9v2h-9zM804 756h2v2h-2zM543 749h2v11h-2zM664 756h3v4h-3zM1085 756h2v4h-2zM761 756h2v4h-2zM703 756h2v4h-2zM750 758h9v2h-9zM732 758h2v2h-2zM392 758h9v2h-9zM770 758h14v2h-14zM446 758h11v2h-11zM1094 758h7v2h-7zM410 758h11v2h-11zM480 758h2v2h-2zM1049 758h2v2h-2zM1195 758h3v5h-3zM1310 758h2v5h-2zM806 758h2v5h-2zM1157 758h2v5h-2zM1272 758h2v5h-2zM1234 758h2v5h-2zM1119 758h2v5h-2zM759 760h11v3h-11zM734 760h2v3h-2zM705 760h2v3h-2zM1087 760h3v3h-3zM390 760h4v3h-4zM482 760h2v3h-2zM1096 760h7v3h-7zM667 760h2v3h-2zM939 754h2v11h-2zM399 760h4v5h-4zM1236 763h2v2h-2zM669 763h2v2h-2zM1198 763h2v2h-2zM1312 763h3v2h-3zM1099 763h4v2h-4zM1159 763h3v2h-3zM766 763h2v2h-2zM1274 763h2v2h-2zM808 763h3v2h-3zM1121 763h2v2h-2zM484 763h5v2h-5zM498 756h2v11h-2zM588 756h2v11h-2zM736 763h3v4h-3zM1123 765h3v2h-3zM1238 765h2v2h-2zM1200 765h2v2h-2zM1315 765h2v2h-2zM768 765h2v2h-2zM811 765h2v2h-2zM489 765h2v2h-2zM1099 765h9v2h-9zM1162 765h2v2h-2zM1276 765h3v2h-3zM394 765h7v2h-7zM739 767h2v2h-2zM491 767h2v2h-2zM770 767h2v2h-2zM1101 767h9v2h-9zM977 760h2v12h-2zM455 760h5v12h-5zM408 760h4v12h-4zM419 760h5v12h-5zM901 760h2v12h-2zM520 760h3v12h-3zM444 760h4v12h-4zM813 767h2v5h-2zM1164 767h2v5h-2zM1279 767h2v5h-2zM1126 767h2v5h-2zM1240 767h3v5h-3zM399 767h4v5h-4zM1202 767h2v5h-2zM1317 767h2v5h-2zM493 769h3v3h-3zM741 769h2v3h-2zM772 769h3v3h-3zM390 769h4v3h-4zM1103 769h11v3h-11zM565 763h3v11h-3zM610 763h3v11h-3zM862 763h3v11h-3zM430 769h5v5h-5zM1204 772h3v2h-3zM1114 772h3v2h-3zM392 772h9v2h-9zM1281 772h2v2h-2zM446 772h11v2h-11zM775 772h2v2h-2zM815 772h2v2h-2zM1108 772h4v2h-4zM1166 772h2v2h-2zM496 772h2v2h-2zM1128 772h2v2h-2zM1243 772h2v2h-2zM410 772h11v2h-11zM1319 772h2v2h-2zM1015 765h3v11h-3zM1117 774h4v2h-4zM817 774h3v2h-3zM1110 774h4v2h-4zM498 774h2v2h-2zM777 774h2v2h-2zM543 767h2v11h-2zM1207 774h2v4h-2zM1321 774h3v4h-3zM1168 774h3v4h-3zM1283 774h2v4h-2zM1130 774h2v4h-2zM1245 774h2v4h-2zM1114 776h3v2h-3zM1121 776h5v2h-5zM500 776h2v2h-2zM779 776h2v2h-2zM1054 769h2v12h-2zM820 776h2v5h-2zM781 778h3v3h-3zM1247 778h2v3h-2zM1126 778h2v3h-2zM1117 778h2v3h-2zM430 778h14v3h-14zM1209 778h2v3h-2zM1324 778h2v3h-2zM469 778h11v3h-11zM415 778h9v3h-9zM1171 778h2v3h-2zM1285 778h3v3h-3zM1132 778h3v3h-3zM502 778h3v3h-3zM709 772h3v11h-3zM1092 772h2v11h-2zM939 772h2v11h-2zM671 772h2v11h-2zM1288 781h2v2h-2zM1128 781h4v2h-4zM1135 781h2v2h-2zM505 781h2v2h-2zM1249 781h3v2h-3zM412 781h5v2h-5zM1211 781h2v2h-2zM430 781h5v2h-5zM1326 781h2v2h-2zM1173 781h2v2h-2zM588 774h2v11h-2zM421 781h5v4h-5zM507 783h4v2h-4zM1137 783h2v2h-2zM1110 783h4v2h-4zM430 783h12v2h-12zM1132 783h3v2h-3zM1175 783h2v4h-2zM1290 783h2v4h-2zM1252 783h2v4h-2zM1328 783h2v4h-2zM1213 783h3v4h-3zM417 785h7v2h-7zM1112 785h5v2h-5zM511 785h3v2h-3zM1135 785h4v2h-4zM977 778h2v12h-2zM901 778h2v12h-2zM520 778h3v12h-3zM1139 787h194v3h-194zM415 787h4v3h-4zM514 787h2v3h-2zM466 781h5v11h-5zM565 781h3v11h-3zM478 781h4v11h-4zM610 781h3v11h-3zM862 781h3v11h-3zM439 785h5v7h-5zM1114 787h5v5h-5zM516 790h2v2h-2zM412 790h5v2h-5zM430 790h5v2h-5zM421 790h5v2h-5zM748 783h2v11h-2zM1015 783h3v11h-3zM453 790h4v4h-4zM1256 790h2v4h-2zM1218 790h2v4h-2zM1333 790h2v4h-2zM1180 790h2v4h-2zM1294 790h3v4h-3zM1141 790h3v4h-3zM433 792h9v2h-9zM469 792h11v2h-11zM518 792h2v2h-2zM412 792h14v2h-14zM543 785h2v11h-2zM1117 792h4v4h-4zM1258 794h3v2h-3zM1144 794h2v2h-2zM1220 794h2v2h-2zM1297 794h2v2h-2zM1182 794h2v2h-2zM520 794h3v2h-3zM1335 794h2v2h-2zM1054 787h2v12h-2zM1119 796h4v3h-4zM523 796h2v3h-2zM709 790h3v11h-3zM824 790h2v11h-2zM1092 790h2v11h-2zM939 790h2v11h-2zM671 790h2v11h-2zM786 790h2v11h-2zM1184 796h2v5h-2zM1299 796h2v5h-2zM1146 796h2v5h-2zM1261 796h2v5h-2zM1222 796h3v5h-3zM1337 796h2v5h-2zM455 799h11v2h-11zM525 799h2v2h-2zM491 799h11v2h-11zM437 799h9v2h-9zM1121 799h2v2h-2zM588 792h2v11h-2zM435 801h4v2h-4zM1186 801h3v2h-3zM1301 801h2v2h-2zM527 801h2v2h-2zM1121 801h5v2h-5zM1148 801h2v2h-2zM1263 801h2v2h-2zM1225 801h2v2h-2zM1339 801h3v2h-3zM1130 801h2v4h-2zM444 801h4v4h-4zM529 803h5v2h-5zM1123 803h5v2h-5zM977 796h2v12h-2zM901 796h2v12h-2zM1227 803h2v5h-2zM1342 803h2v5h-2zM1189 803h2v5h-2zM1303 803h3v5h-3zM1150 803h3v5h-3zM1265 803h2v5h-2zM534 805h2v3h-2zM439 805h7v3h-7zM1126 805h6v3h-6zM565 799h3v11h-3zM610 799h3v11h-3zM862 799h3v11h-3zM1267 808h3v2h-3zM536 808h2v2h-2zM1229 808h2v2h-2zM437 808h5v2h-5zM1126 808h2v2h-2zM1130 808h5v2h-5zM1344 808h2v2h-2zM1191 808h2v2h-2zM1306 808h2v2h-2zM1153 808h2v2h-2zM453 801h4v11h-4zM500 801h5v11h-5zM489 801h4v11h-4zM748 801h2v11h-2zM1015 801h3v11h-3zM464 801h5v11h-5zM543 803h2v9h-2zM435 810h4v2h-4zM538 810h3v2h-3zM444 810h4v2h-4zM475 810h5v4h-5zM1308 810h2v4h-2zM1155 810h2v4h-2zM1270 810h2v4h-2zM1128 810h2v4h-2zM1346 810h2v4h-2zM1231 810h3v4h-3zM1193 810h2v4h-2zM1144 812h2v2h-2zM455 812h11v2h-11zM541 812h4v2h-4zM491 812h11v2h-11zM435 812h13v2h-13zM1054 805h2v12h-2zM1146 814h4v3h-4zM1195 814h3v3h-3zM1310 814h2v3h-2zM1157 814h2v3h-2zM1272 814h2v3h-2zM1234 814h2v3h-2zM1348 814h3v3h-3zM543 814h2v3h-2zM709 808h3v11h-3zM824 808h2v11h-2zM1092 808h2v11h-2zM939 808h2v11h-2zM671 808h2v11h-2zM786 808h2v11h-2zM1130 814h2v5h-2zM545 817h2v2h-2zM1150 817h5v2h-5zM1159 817h3v2h-3zM588 810h2v11h-2zM1236 817h2v4h-2zM1351 817h2v4h-2zM1198 817h2v4h-2zM1312 817h3v4h-3zM1274 817h2v4h-2zM547 819h3v2h-3zM1155 819h7v2h-7zM475 819h14v2h-14zM514 819h11v2h-11zM462 819h4v2h-4zM1130 819h5v4h-5zM475 821h5v2h-5zM550 821h2v2h-2zM1159 821h196v2h-196zM460 821h6v2h-6zM977 814h2v12h-2zM901 814h2v12h-2zM475 823h12v3h-12zM1164 823h2v3h-2zM1279 823h2v3h-2zM552 823h4v3h-4zM1240 823h3v3h-3zM1355 823h2v3h-2zM1202 823h2v3h-2zM1317 823h2v3h-2zM565 817h3v11h-3zM610 817h3v11h-3zM862 817h3v11h-3zM1135 823h2v5h-2zM1130 823h2v5h-2zM1204 826h3v2h-3zM1281 826h2v2h-2zM556 826h3v2h-3zM1166 826h2v2h-2zM1243 826h2v2h-2zM1357 826h3v2h-3zM1319 826h2v2h-2zM748 819h2v11h-2zM1015 819h3v11h-3zM1360 828h2v2h-2zM1207 828h2v2h-2zM1321 828h3v2h-3zM1168 828h3v2h-3zM559 828h2v2h-2zM1283 828h2v2h-2zM1245 828h2v2h-2zM511 821h5v11h-5zM523 821h4v11h-4zM462 823h4v9h-4zM484 826h5v6h-5zM1137 828h2v4h-2zM475 830h5v2h-5zM1247 830h2v2h-2zM1362 830h2v2h-2zM1209 830h2v2h-2zM1324 830h2v2h-2zM561 830h2v2h-2zM1171 830h2v2h-2zM1285 830h3v2h-3zM1054 823h2v12h-2zM498 830h4v5h-4zM457 832h14v3h-14zM478 832h9v3h-9zM514 832h11v3h-11zM563 832h2v3h-2zM709 826h3v11h-3zM824 826h2v11h-2zM1092 826h2v11h-2zM939 826h2v11h-2zM671 826h2v11h-2zM786 826h2v11h-2zM1288 832h2v5h-2zM1249 832h3v5h-3zM1364 832h2v5h-2zM1139 832h2v5h-2zM1211 832h2v5h-2zM1326 832h2v5h-2zM1173 832h2v5h-2zM565 835h3v2h-3zM588 828h2v11h-2zM1366 837h3v2h-3zM1213 837h3v2h-3zM1175 837h2v2h-2zM1328 837h2v2h-2zM1252 837h2v2h-2zM568 837h2v2h-2zM1290 837h2v2h-2zM1141 837h3v4h-3zM1216 839h2v2h-2zM1330 839h3v2h-3zM1177 839h3v2h-3zM1292 839h2v2h-2zM500 839h11v2h-11zM570 839h2v2h-2zM1254 839h2v2h-2zM1369 839h2v2h-2zM484 839h5v2h-5zM536 839h11v2h-11zM977 832h2v12h-2zM901 832h2v12h-2zM1256 841h2v3h-2zM1371 841h2v3h-2zM1218 841h2v3h-2zM482 841h7v3h-7zM1333 841h2v3h-2zM1180 841h2v3h-2zM1294 841h3v3h-3zM572 841h2v3h-2zM610 835h3v11h-3zM1130 835h2v11h-2zM862 835h3v11h-3zM1144 841h2v5h-2zM1258 844h3v2h-3zM1373 844h2v2h-2zM1220 844h2v2h-2zM1297 844h2v2h-2zM1335 844h2v2h-2zM574 844h5v2h-5zM1182 844h2v2h-2zM1015 837h3v11h-3zM748 837h2v11h-2zM1146 846h4v2h-4zM579 846h2v2h-2zM1157 846h221v2h-221zM581 848h2v2h-2zM498 841h4v12h-4zM509 841h5v12h-5zM1054 841h2v12h-2zM534 841h4v12h-4zM545 841h5v12h-5zM484 844h5v9h-5zM588 846h2v7h-2zM1186 848h3v5h-3zM1301 848h2v5h-2zM1148 848h2v5h-2zM1263 848h2v5h-2zM1378 848h2v5h-2zM1225 848h2v5h-2zM1339 848h3v5h-3zM583 850h3v3h-3zM709 844h3v11h-3zM824 844h2v11h-2zM1092 844h2v11h-2zM939 844h2v11h-2zM671 844h2v11h-2zM786 844h2v11h-2zM520 850h5v5h-5zM1380 853h2v2h-2zM1227 853h2v2h-2zM480 853h13v2h-13zM1342 853h2v2h-2zM500 853h11v2h-11zM1189 853h2v2h-2zM1303 853h3v2h-3zM586 853h4v2h-4zM1150 853h3v2h-3zM1265 853h2v2h-2zM536 853h11v2h-11zM588 855h2v2h-2zM1344 855h2v4h-2zM1229 855h2v4h-2zM1306 855h2v4h-2zM1191 855h2v4h-2zM1153 855h2v4h-2zM1267 855h3v4h-3zM1382 855h2v4h-2zM590 857h2v2h-2zM977 850h2v12h-2zM901 850h2v12h-2zM1308 859h2v3h-2zM559 859h11v3h-11zM1155 859h2v3h-2zM1270 859h2v3h-2zM1384 859h3v3h-3zM1346 859h2v3h-2zM1231 859h3v3h-3zM592 859h3v3h-3zM1193 859h2v3h-2zM520 859h14v3h-14zM610 853h3v11h-3zM1130 853h2v11h-2zM862 853h3v11h-3zM520 862h5v2h-5zM595 862h2v2h-2zM748 855h2v11h-2zM1015 855h3v11h-3zM1195 862h3v4h-3zM1310 862h2v4h-2zM1157 862h2v4h-2zM1272 862h2v4h-2zM1387 862h2v4h-2zM1234 862h2v4h-2zM1348 862h3v4h-3zM520 864h12v2h-12zM597 864h4v2h-4zM203 864h9v4h-9zM226 864h9v4h-9zM23 864h32v4h-32zM140 864h14v4h-14zM289 864h9v4h-9zM1236 866h2v2h-2zM1351 866h2v2h-2zM1198 866h2v2h-2zM1312 866h3v2h-3zM601 866h3v2h-3zM1274 866h2v2h-2zM1389 866h2v2h-2zM1054 859h2v12h-2zM604 868h2v3h-2zM709 862h3v11h-3zM824 862h2v11h-2zM1092 862h2v11h-2zM556 862h5v11h-5zM939 862h2v11h-2zM671 862h2v11h-2zM786 862h2v11h-2zM568 862h4v11h-4zM529 866h5v7h-5zM221 868h14v5h-14zM1391 868h2v5h-2zM1238 868h2v5h-2zM203 868h14v5h-14zM1353 868h2v5h-2zM1200 868h2v5h-2zM1315 868h2v5h-2zM1276 868h3v5h-3zM606 871h2v2h-2zM520 871h5v2h-5zM610 871h3v2h-3zM1398 299h2v576h-2zM543 871h4v4h-4zM523 873h9v2h-9zM559 873h11v2h-11zM1393 873h3v2h-3zM1279 873h2v2h-2zM1240 873h3v2h-3zM1355 873h2v2h-2zM1202 873h2v2h-2zM608 873h5v2h-5zM1317 873h2v2h-2zM23 868h9v9h-9zM100 873h22v4h-22zM244 873h22v4h-22zM284 873h14v4h-14zM203 873h32v4h-32zM311 873h27v4h-27zM1204 875h3v2h-3zM1396 875h4v2h-4zM1281 875h2v2h-2zM610 875h3v2h-3zM1243 875h2v2h-2zM1357 875h3v2h-3zM1319 875h2v2h-2zM977 868h2v12h-2zM901 868h2v12h-2zM613 877h2v3h-2zM1130 871h2v11h-2zM862 871h3v11h-3zM95 877h9v5h-9zM262 877h9v5h-9zM118 877h9v5h-9zM23 877h27v5h-27zM217 877h4v5h-4zM545 880h9v2h-9zM581 880h11v2h-11zM615 880h2v2h-2zM748 873h2v11h-2zM1015 873h3v11h-3zM617 882h2v2h-2zM543 882h4v2h-4zM95 882h32v4h-32zM552 882h4v4h-4zM244 882h27v4h-27zM619 884h5v2h-5zM1054 877h2v12h-2zM547 886h7v3h-7zM624 886h2v3h-2zM145 868h9v23h-9zM59 873h9v18h-9zM82 873h9v18h-9zM289 877h9v14h-9zM709 880h3v11h-3zM824 880h2v11h-2zM1092 880h2v11h-2zM939 880h2v11h-2zM671 880h2v11h-2zM786 880h2v11h-2zM239 886h9v5h-9zM95 886h9v5h-9zM262 886h9v5h-9zM545 889h5v2h-5zM626 889h2v2h-2zM633 817h2v76h-2zM579 882h4v11h-4zM590 882h5v11h-5zM628 891h3v2h-3zM552 891h4v2h-4zM543 891h4v2h-4zM203 877h9v18h-9zM226 877h9v18h-9zM311 877h9v18h-9zM334 877h9v18h-9zM23 882h9v13h-9zM1398 884h2v11h-2zM977 886h2v9h-2zM1360 886h2v9h-2zM1207 886h2v9h-2zM1321 886h3v9h-3zM1168 886h3v9h-3zM901 886h2v9h-2zM1283 886h2v9h-2zM1245 886h2v9h-2zM1130 889h2v6h-2zM862 889h3v6h-3zM244 891h27v4h-27zM100 891h27v4h-27zM284 891h18v4h-18zM140 891h18v4h-18zM748 891h2v4h-2zM1015 891h3v4h-3zM565 891h5v4h-5zM64 891h27v4h-27zM631 893h4v2h-4zM543 893h13v2h-13zM581 893h11v2h-11zM633 895h767v3h-767zM568 900h11v2h-11zM604 900h11v2h-11zM151 909h9v2h-9zM174 909h9v2h-9zM241 909h5v2h-5zM30 909h4v2h-4zM120 909h9v2h-9zM185 909h14v2h-14zM601 902h5v11h-5zM565 902h5v11h-5zM613 902h4v11h-4zM577 902h4v11h-4zM70 911h5v2h-5zM118 911h4v2h-4zM244 911h4v2h-4zM28 911h4v2h-4zM185 911h5v5h-5zM196 911h5v5h-5zM588 911h4v5h-4zM59 911h5v5h-5zM115 913h12v3h-12zM68 913h5v3h-5zM97 913h12v3h-12zM568 913h11v3h-11zM604 913h11v3h-11zM1085 916h11v2h-11zM1353 916h11v2h-11zM703 916h11v2h-11zM817 916h12v2h-12zM1200 916h11v2h-11zM1047 916h11v2h-11zM932 916h11v2h-11zM66 916h4v2h-4zM1238 916h11v2h-11zM1315 916h11v2h-11zM664 916h12v2h-12zM1162 916h11v2h-11zM779 916h11v2h-11zM1009 916h11v2h-11zM1276 916h12v2h-12zM894 916h11v2h-11zM185 916h14v2h-14zM1391 916h11v2h-11zM741 916h11v2h-11zM1123 916h12v2h-12zM856 916h11v2h-11zM970 916h12v2h-12zM25 913h5v7h-5zM246 913h4v7h-4zM1236 918h16v2h-16zM853 918h16v2h-16zM1083 918h16v2h-16zM700 918h16v2h-16zM1351 918h15v2h-15zM64 918h4v2h-4zM968 918h16v2h-16zM815 918h16v2h-16zM930 918h16v2h-16zM1198 918h15v2h-15zM1312 918h16v2h-16zM662 918h16v2h-16zM1159 918h16v2h-16zM777 918h16v2h-16zM1045 918h15v2h-15zM1274 918h16v2h-16zM892 918h15v2h-15zM739 918h15v2h-15zM1389 918h16v2h-16zM1121 918h16v2h-16zM1006 918h16v2h-16zM214 909h5v13h-5zM203 909h5v13h-5zM178 911h5v11h-5zM154 911h4v11h-4zM106 916h5v6h-5zM95 916h5v6h-5zM167 918h5v4h-5zM244 920h4v2h-4zM28 920h4v2h-4zM61 920h5v2h-5zM118 916h4v9h-4zM185 918h5v7h-5zM70 920h5v5h-5zM151 922h9v3h-9zM241 922h5v3h-5zM97 922h12v3h-12zM169 922h12v3h-12zM59 922h5v3h-5zM205 922h12v3h-12zM30 922h4v3h-4zM853 920h3v7h-3zM905 920h2v7h-2zM1288 920h2v7h-2zM1236 920h2v7h-2zM1402 920h3v7h-3zM1020 920h2v7h-2zM1351 920h2v7h-2zM700 920h3v7h-3zM1083 920h2v7h-2zM968 920h2v7h-2zM1135 920h2v7h-2zM752 920h2v7h-2zM867 920h2v7h-2zM1249 920h3v7h-3zM1198 920h2v7h-2zM815 920h2v7h-2zM982 920h2v7h-2zM1312 920h3v7h-3zM662 920h2v7h-2zM930 920h2v7h-2zM1159 920h3v7h-3zM1096 920h3v7h-3zM714 920h2v7h-2zM1364 920h2v7h-2zM1045 920h2v7h-2zM829 920h2v7h-2zM777 920h2v7h-2zM943 920h3v7h-3zM1211 920h2v7h-2zM892 920h2v7h-2zM1058 920h2v7h-2zM1274 920h2v7h-2zM1389 920h2v7h-2zM739 920h2v7h-2zM1121 920h2v7h-2zM676 920h2v7h-2zM1326 920h2v7h-2zM790 920h3v7h-3zM1006 920h3v7h-3zM1173 920h2v7h-2zM1236 927h16v2h-16zM853 927h16v2h-16zM1083 927h16v2h-16zM700 927h16v2h-16zM1351 927h15v2h-15zM968 927h16v2h-16zM815 927h16v2h-16zM1198 927h15v2h-15zM930 927h16v2h-16zM1312 927h16v2h-16zM662 927h16v2h-16zM1159 927h16v2h-16zM777 927h16v2h-16zM1045 927h15v2h-15zM1274 927h16v2h-16zM892 927h15v2h-15zM1389 927h16v2h-16zM739 927h15v2h-15zM1121 927h16v2h-16zM1006 927h16v2h-16zM1085 929h11v2h-11zM1353 929h11v2h-11zM703 929h11v2h-11zM817 929h12v2h-12zM1200 929h11v2h-11zM1047 929h11v2h-11zM932 929h11v2h-11zM1238 929h11v2h-11zM1315 929h11v2h-11zM664 929h12v2h-12zM1162 929h11v2h-11zM779 929h11v2h-11zM1009 929h11v2h-11zM1276 929h12v2h-12zM894 929h11v2h-11zM1391 929h11v2h-11zM741 929h11v2h-11zM1123 929h12v2h-12zM856 929h11v2h-11zM970 929h12v2h-12zM1085 934h11v2h-11zM1353 934h11v2h-11zM703 934h11v2h-11zM817 934h12v2h-12zM1200 934h11v2h-11zM1047 934h11v2h-11zM932 934h11v2h-11zM1238 934h11v2h-11zM1315 934h11v2h-11zM664 934h12v2h-12zM1162 934h11v2h-11zM779 934h11v2h-11zM1009 934h11v2h-11zM1276 934h12v2h-12zM894 934h11v2h-11zM1391 934h11v2h-11zM741 934h11v2h-11zM1123 934h12v2h-12zM856 934h11v2h-11zM970 934h12v2h-12zM1236 936h16v2h-16zM853 936h16v2h-16zM1083 936h16v2h-16zM700 936h16v2h-16zM1351 936h15v2h-15zM968 936h16v2h-16zM815 936h16v2h-16zM1198 936h15v2h-15zM930 936h16v2h-16zM1312 936h16v2h-16zM662 936h16v2h-16zM1159 936h16v2h-16zM777 936h16v2h-16zM1045 936h15v2h-15zM1274 936h16v2h-16zM892 936h15v2h-15zM1389 936h16v2h-16zM739 936h15v2h-15zM1121 936h16v2h-16zM1006 936h16v2h-16zM853 938h3v7h-3zM905 938h2v7h-2zM1288 938h2v7h-2zM1236 938h2v7h-2zM1402 938h3v7h-3zM1020 938h2v7h-2zM1351 938h2v7h-2zM700 938h3v7h-3zM1083 938h2v7h-2zM968 938h2v7h-2zM1135 938h2v7h-2zM752 938h2v7h-2zM867 938h2v7h-2zM1249 938h3v7h-3zM1198 938h2v7h-2zM815 938h2v7h-2zM982 938h2v7h-2zM1312 938h3v7h-3zM662 938h2v7h-2zM930 938h2v7h-2zM1159 938h3v7h-3zM1096 938h3v7h-3zM714 938h2v7h-2zM1364 938h2v7h-2zM1045 938h2v7h-2zM829 938h2v7h-2zM777 938h2v7h-2zM943 938h3v7h-3zM1211 938h2v7h-2zM892 938h2v7h-2zM1058 938h2v7h-2zM1274 938h2v7h-2zM1389 938h2v7h-2zM739 938h2v7h-2zM1121 938h2v7h-2zM676 938h2v7h-2zM1326 938h2v7h-2zM790 938h3v7h-3zM1006 938h3v7h-3zM1173 938h2v7h-2zM1236 945h16v2h-16zM853 945h16v2h-16zM1083 945h16v2h-16zM700 945h16v2h-16zM1351 945h15v2h-15zM968 945h16v2h-16zM815 945h16v2h-16zM1198 945h15v2h-15zM930 945h16v2h-16zM1312 945h16v2h-16zM662 945h16v2h-16zM1159 945h16v2h-16zM777 945h16v2h-16zM1045 945h15v2h-15zM1274 945h16v2h-16zM892 945h15v2h-15zM1389 945h16v2h-16zM739 945h15v2h-15zM1121 945h16v2h-16zM1006 945h16v2h-16zM1085 947h11v2h-11zM1353 947h11v2h-11zM703 947h11v2h-11zM817 947h12v2h-12zM1200 947h11v2h-11zM1047 947h11v2h-11zM932 947h11v2h-11zM1238 947h11v2h-11zM1315 947h11v2h-11zM664 947h12v2h-12zM1162 947h11v2h-11zM779 947h11v2h-11zM1009 947h11v2h-11zM1276 947h12v2h-12zM894 947h11v2h-11zM1391 947h11v2h-11zM741 947h11v2h-11zM1123 947h12v2h-12zM856 947h11v2h-11zM970 947h12v2h-12zM1162 952h11v2h-11zM779 952h11v2h-11zM1054 952h2v2h-2zM1238 952h11v2h-11zM867 952h2v2h-2zM671 952h2v2h-2zM676 952h2v2h-2zM1353 952h11v2h-11zM970 952h12v2h-12zM862 952h3v2h-3zM1058 952h2v2h-2zM1236 954h16v2h-16zM1351 954h15v2h-15zM817 954h5v2h-5zM968 954h16v2h-16zM901 954h4v2h-4zM1319 954h7v2h-7zM1130 954h5v2h-5zM748 954h4v2h-4zM932 954h5v2h-5zM1204 954h7v2h-7zM1159 954h16v2h-16zM1009 954h4v2h-4zM1281 954h7v2h-7zM777 954h16v2h-16zM709 954h5v2h-5zM741 954h4v2h-4zM1123 954h5v2h-5zM1396 954h6v2h-6zM1092 954h4v2h-4zM939 954h4v2h-4zM853 954h16v4h-16zM826 954h5v4h-5zM662 954h16v4h-16zM1018 954h4v4h-4zM1045 954h15v4h-15zM898 956h9v2h-9zM815 956h9v2h-9zM930 956h16v2h-16zM1202 956h11v2h-11zM1317 956h11v2h-11zM739 956h15v2h-15zM1393 956h12v2h-12zM707 956h9v2h-9zM1090 956h9v2h-9zM1121 956h16v2h-16zM1006 956h9v2h-9zM1279 956h11v2h-11zM700 956h3v5h-3zM1083 956h2v5h-2zM892 956h2v5h-2zM662 958h5v3h-5zM1045 958h4v3h-4zM867 958h2v3h-2zM1013 958h2v3h-2zM853 958h5v3h-5zM1058 958h2v3h-2zM676 958h2v3h-2zM822 958h2v3h-2zM1198 954h2v9h-2zM1312 954h3v9h-3zM1274 954h2v9h-2zM1389 954h2v9h-2zM1236 956h2v7h-2zM1351 956h2v7h-2zM968 956h2v7h-2zM1249 956h3v7h-3zM982 956h2v7h-2zM1159 956h3v7h-3zM1364 956h2v7h-2zM777 956h2v7h-2zM790 956h3v7h-3zM1173 956h2v7h-2zM905 958h2v5h-2zM1288 958h2v5h-2zM1402 958h3v5h-3zM1020 958h2v5h-2zM937 958h2v5h-2zM1006 958h3v5h-3zM1393 958h3v5h-3zM1135 958h2v5h-2zM752 958h2v5h-2zM1279 958h2v5h-2zM898 958h3v5h-3zM671 958h2v5h-2zM815 958h2v5h-2zM930 958h2v5h-2zM745 958h3v5h-3zM1054 958h2v5h-2zM1128 958h2v5h-2zM1096 958h3v5h-3zM714 958h2v5h-2zM829 958h2v5h-2zM943 958h3v5h-3zM1211 958h2v5h-2zM1317 958h2v5h-2zM1202 958h2v5h-2zM739 958h2v5h-2zM707 958h2v5h-2zM1121 958h2v5h-2zM1326 958h2v5h-2zM1090 958h2v5h-2zM862 958h3v5h-3zM1013 961h5v2h-5zM1047 961h4v2h-4zM892 961h4v2h-4zM664 961h5v2h-5zM822 961h4v2h-4zM1083 961h4v2h-4zM700 961h5v2h-5zM856 961h4v2h-4zM1015 963h7v2h-7zM1236 963h16v2h-16zM1209 963h4v2h-4zM1351 963h15v2h-15zM1324 963h4v2h-4zM968 963h16v2h-16zM667 963h6v2h-6zM1049 963h7v2h-7zM930 963h16v2h-16zM894 963h13v2h-13zM824 963h7v2h-7zM1285 963h5v2h-5zM1159 963h16v2h-16zM1006 963h5v2h-5zM777 963h16v2h-16zM1085 963h14v2h-14zM1400 963h5v2h-5zM858 963h7v2h-7zM739 963h15v2h-15zM703 963h13v2h-13zM1121 963h16v2h-16zM815 963h5v2h-5zM1274 963h7v4h-7zM1389 963h7v4h-7zM1198 963h6v4h-6zM1312 963h7v4h-7zM1400 965h2v2h-2zM826 965h5v2h-5zM896 965h9v2h-9zM1353 965h11v2h-11zM860 965h5v2h-5zM1130 965h5v2h-5zM748 965h4v2h-4zM932 965h5v2h-5zM1238 965h11v2h-11zM1209 965h2v2h-2zM1324 965h2v2h-2zM817 965h3v2h-3zM1162 965h11v2h-11zM779 965h11v2h-11zM1018 965h4v2h-4zM705 965h9v2h-9zM1087 965h9v2h-9zM741 965h4v2h-4zM1051 965h5v2h-5zM669 965h4v2h-4zM1123 965h5v2h-5zM1285 965h3v2h-3zM970 965h12v2h-12zM1009 965h2v2h-2zM939 965h4v2h-4zM1249 970h3v2h-3zM1283 970h2v2h-2zM1288 970h2v2h-2zM1245 970h2v2h-2zM1085 972h5v2h-5zM1168 972h5v2h-5zM1200 972h4v2h-4zM1047 972h4v2h-4zM1319 972h7v2h-7zM1398 972h4v2h-4zM1162 972h4v2h-4zM1009 972h4v2h-4zM1360 972h4v2h-4zM1207 972h4v2h-4zM1123 972h5v2h-5zM970 972h5v2h-5zM905 972h2v4h-2zM1236 972h16v4h-16zM1056 972h4v4h-4zM867 972h2v4h-2zM1018 972h4v4h-4zM1132 972h5v4h-5zM829 972h2v4h-2zM943 972h3v4h-3zM1274 972h16v4h-16zM979 972h5v4h-5zM1094 972h5v4h-5zM790 972h3v4h-3zM1083 974h9v2h-9zM968 974h9v2h-9zM1198 974h15v2h-15zM1396 974h9v2h-9zM1159 974h16v2h-16zM1045 974h9v2h-9zM1317 974h11v2h-11zM1121 974h9v2h-9zM1357 974h9v2h-9zM1006 974h9v2h-9zM1351 974h2v5h-2zM1389 974h2v5h-2zM1288 976h2v3h-2zM1051 976h3v3h-3zM1249 976h3v3h-3zM1274 976h5v3h-5zM1013 976h2v3h-2zM1128 976h2v3h-2zM1236 976h4v3h-4zM975 976h2v3h-2zM1090 976h2v3h-2zM1312 972h3v9h-3zM853 976h16v5h-16zM1402 976h3v5h-3zM1020 976h2v5h-2zM1204 976h3v5h-3zM1083 976h2v5h-2zM968 976h2v5h-2zM1135 976h2v5h-2zM1198 976h2v5h-2zM815 976h16v5h-16zM982 976h2v5h-2zM1166 976h2v5h-2zM930 976h16v5h-16zM1159 976h3v5h-3zM1396 976h2v5h-2zM1096 976h3v5h-3zM1364 976h2v5h-2zM1045 976h2v5h-2zM1283 976h2v5h-2zM777 976h16v5h-16zM1211 976h2v5h-2zM1317 976h2v5h-2zM1058 976h2v5h-2zM892 976h15v5h-15zM1245 976h2v5h-2zM1357 976h3v5h-3zM1121 976h2v5h-2zM1326 976h2v5h-2zM1006 976h3v5h-3zM1173 976h2v5h-2zM1013 979h5v2h-5zM1128 979h4v2h-4zM975 979h4v2h-4zM1389 979h4v2h-4zM1090 979h4v2h-4zM1276 979h5v2h-5zM1351 979h4v2h-4zM1051 979h5v2h-5zM1238 979h5v2h-5zM1015 981h7v2h-7zM1198 981h4v2h-4zM894 981h2v2h-2zM1130 981h7v2h-7zM1209 981h4v2h-4zM1159 981h5v2h-5zM1324 981h4v2h-4zM856 981h2v2h-2zM1045 981h4v2h-4zM977 981h7v2h-7zM1171 981h4v2h-4zM1121 981h5v2h-5zM817 981h3v2h-3zM1391 981h14v2h-14zM1092 981h7v2h-7zM1006 981h5v2h-5zM1279 981h6v2h-6zM932 981h2v2h-2zM1083 981h4v2h-4zM779 981h2v2h-2zM1353 981h13v2h-13zM1054 981h6v2h-6zM968 981h5v2h-5zM1240 981h7v2h-7zM905 981h2v4h-2zM867 981h2v4h-2zM829 981h2v4h-2zM943 981h3v4h-3zM1312 981h7v4h-7zM790 981h3v4h-3zM1123 983h3v2h-3zM1393 983h9v2h-9zM1056 983h4v2h-4zM970 983h3v2h-3zM1243 983h4v2h-4zM1085 983h2v2h-2zM1209 983h2v2h-2zM1324 983h2v2h-2zM1018 983h4v2h-4zM1200 983h2v2h-2zM1132 983h5v2h-5zM1355 983h9v2h-9zM1047 983h2v2h-2zM1171 983h2v2h-2zM979 983h5v2h-5zM1162 983h2v2h-2zM1094 983h5v2h-5zM1009 983h2v2h-2zM1281 983h4v2h-4zM133 1042h5v2h-5zM365 1042h7v2h-7zM300 1042h4v2h-4zM403 1042h5v2h-5zM111 1042h9v2h-9zM1081 1042h13v2h-13zM1333 1042h15v2h-15zM759 1042h11v2h-11zM615 1042h9v2h-9zM907 1042h5v2h-5zM455 1042h5v4h-5zM653 1042h5v4h-5zM1128 1042h4v4h-4zM149 1042h5v4h-5zM1380 1042h4v4h-4zM390 1042h4v4h-4zM775 1042h4v4h-4zM363 1044h4v2h-4zM622 1044h4v2h-4zM768 1044h4v2h-4zM118 1044h4v2h-4zM613 1044h4v2h-4zM109 1044h4v2h-4zM370 1044h4v2h-4zM298 1044h4v2h-4zM1333 1044h4v4h-4zM1081 1044h4v4h-4zM1092 1044h4v4h-4zM651 1046h11v2h-11zM165 1046h11v2h-11zM453 1046h11v2h-11zM795 1046h11v2h-11zM435 1046h11v2h-11zM613 1046h6v2h-6zM1137 1046h4v2h-4zM811 1046h13v2h-13zM109 1046h6v2h-6zM831 1046h13v2h-13zM849 1046h11v2h-11zM1119 1046h13v2h-13zM147 1046h11v2h-11zM633 1046h11v2h-11zM921 1046h11v2h-11zM905 1046h7v2h-7zM1144 1046h6v2h-6zM131 1046h7v2h-7zM1351 1046h13v2h-13zM1371 1046h13v2h-13zM401 1046h7v2h-7zM295 1046h5v2h-5zM381 1046h13v2h-13zM775 1046h13v2h-13zM1101 1046h11v2h-11zM1155 1046h11v2h-11zM372 1046h4v5h-4zM361 1046h4v5h-4zM433 1048h4v3h-4zM930 1048h4v3h-4zM858 1048h4v3h-4zM642 1048h4v3h-4zM847 1048h4v3h-4zM631 1048h4v3h-4zM1315 1048h13v3h-13zM615 1048h7v3h-7zM595 1048h13v3h-13zM739 1048h13v3h-13zM1081 1048h13v3h-13zM1099 1048h4v3h-4zM111 1048h7v3h-7zM293 1048h5v3h-5zM1110 1048h4v3h-4zM91 1048h13v3h-13zM163 1048h4v3h-4zM1063 1048h13v3h-13zM1164 1048h4v3h-4zM174 1048h4v3h-4zM919 1048h4v3h-4zM1137 1048h7v3h-7zM1333 1048h13v3h-13zM343 1048h13v3h-13zM804 1048h4v3h-4zM883 1042h4v11h-4zM894 1042h4v11h-4zM1171 1046h4v7h-4zM1182 1046h4v7h-4zM937 1046h4v7h-4zM948 1046h4v7h-4zM840 1048h4v5h-4zM1128 1048h4v5h-4zM829 1048h4v5h-4zM1380 1048h4v5h-4zM390 1048h4v5h-4zM163 1051h15v2h-15zM435 1051h11v2h-11zM291 1051h4v2h-4zM919 1051h15v2h-15zM361 1051h15v2h-15zM1177 1051h3v2h-3zM847 1051h15v2h-15zM631 1051h15v2h-15zM1090 1051h4v2h-4zM1155 1051h13v2h-13zM795 1051h13v2h-13zM943 1051h3v2h-3zM619 1051h7v2h-7zM115 1051h7v2h-7zM1099 1051h15v2h-15zM757 1044h4v11h-4zM426 1046h4v9h-4zM415 1046h4v9h-4zM455 1048h5v7h-5zM133 1048h5v7h-5zM1117 1048h4v7h-4zM653 1048h5v7h-5zM149 1048h5v7h-5zM1369 1048h4v7h-4zM379 1048h4v7h-4zM907 1048h5v7h-5zM1333 1051h4v4h-4zM289 1053h4v2h-4zM1378 1053h6v2h-6zM847 1053h4v2h-4zM631 1053h4v2h-4zM937 1053h15v2h-15zM831 1053h13v2h-13zM622 1053h4v2h-4zM388 1053h6v2h-6zM768 1053h4v2h-4zM118 1053h4v2h-4zM892 1053h4v2h-4zM613 1053h4v2h-4zM1099 1053h4v2h-4zM109 1053h4v2h-4zM1153 1053h4v2h-4zM163 1053h4v2h-4zM1126 1053h6v2h-6zM1164 1053h4v2h-4zM793 1053h4v2h-4zM885 1053h4v2h-4zM919 1053h4v2h-4zM1171 1053h15v2h-15zM804 1053h4v2h-4zM444 1053h4v2h-4zM786 1048h4v9h-4zM403 1048h5v9h-5zM811 1048h4v9h-4zM822 1048h4v9h-4zM1351 1048h4v9h-4zM1362 1048h4v9h-4zM775 1048h4v9h-4zM1137 1051h4v6h-4zM1081 1051h4v6h-4zM372 1053h4v4h-4zM1092 1053h4v4h-4zM361 1053h4v4h-4zM905 1055h9v2h-9zM457 1055h7v2h-7zM633 1055h13v2h-13zM921 1055h13v2h-13zM417 1055h13v2h-13zM131 1055h9v2h-9zM1119 1055h7v2h-7zM655 1055h7v2h-7zM111 1055h9v2h-9zM1180 1055h4v2h-4zM840 1055h4v2h-4zM1128 1055h4v2h-4zM289 1055h2v2h-2zM1101 1055h13v2h-13zM151 1055h7v2h-7zM1333 1055h15v2h-15zM759 1055h11v2h-11zM1371 1055h7v2h-7zM887 1055h7v2h-7zM381 1055h7v2h-7zM946 1055h4v2h-4zM1155 1055h13v2h-13zM795 1055h13v2h-13zM433 1055h13v2h-13zM1173 1055h4v2h-4zM1380 1055h4v2h-4zM165 1055h13v2h-13zM390 1055h4v2h-4zM615 1055h9v2h-9zM849 1055h13v2h-13zM939 1055h4v2h-4zM831 1057h11v3h-11zM397 1057h9v3h-9z"/>
<path fill="#FF5555" d="M318 216h2v2h-2zM316 218h6v2h-6zM318 220h7v3h-7zM320 223h7v2h-7zM322 225h7v2h-7zM325 227h6v2h-6zM327 229h7v5h-7zM329 234h7v2h-7zM331 236h7v2h-7zM334 238h6v3h-6zM336 241h7v2h-7zM338 243h7v2h-7zM340 245h7v2h-7zM343 247h6v3h-6zM345 250h7v4h-7zM347 254h7v2h-7zM349 256h7v3h-7zM352 259h6v2h-6zM354 261h7v2h-7zM356 263h7v5h-7zM358 268h7v2h-7zM361 270h6v2h-6zM363 272h7v2h-7zM365 274h7v3h-7zM367 277h7v4h-7zM370 281h6v2h-6zM372 283h7v3h-7zM374 286h7v2h-7zM376 288h7v2h-7zM379 290h6v5h-6zM381 295h7v2h-7zM383 297h7v2h-7zM385 299h7v2h-7zM388 301h6v3h-6zM390 304h7v2h-7zM392 306h7v2h-7zM394 308h7v5h-7zM397 313h6v2h-6zM399 315h7v2h-7zM401 317h7v2h-7zM403 319h7v3h-7zM406 322h6v2h-6zM408 324h7v4h-7zM410 328h7v5h-7zM412 333h7v4h-7zM415 337h6v5h-6zM417 342h7v4h-7zM419 346h7v5h-7zM421 351h7v4h-7zM424 355h6v5h-6zM426 360h7v4h-7zM428 364h7v5h-7zM430 369h7v4h-7zM433 373h6v5h-6zM435 378h7v4h-7zM437 382h7v5h-7zM439 387h7v4h-7zM442 391h6v5h-6zM444 396h7v4h-7zM446 400h7v5h-7zM448 405h7v4h-7zM451 409h6v7h-6zM453 416h7v7h-7zM455 423h7v7h-7zM457 430h7v6h-7zM460 436h6v7h-6zM462 443h7v5h-7zM464 448h7v6h-7zM466 454h7v7h-7zM469 461h6v7h-6zM471 468h7v7h-7zM473 475h7v4h-7zM475 479h7v5h-7zM478 484h6v4h-6zM480 488h7v2h-7zM482 490h7v5h-7zM484 495h7v4h-7zM487 499h6v5h-6zM489 504h7v2h-7zM491 506h7v5h-7zM493 511h7v4h-7zM496 515h6v5h-6zM498 520h7v4h-7zM500 524h7v7h-7zM502 531h7v7h-7zM505 538h6v4h-6zM507 542h7v7h-7zM509 549h7v4h-7zM511 553h7v7h-7zM514 560h6v7h-6zM516 567h7v4h-7zM518 571h7v7h-7zM520 578h7v7h-7zM523 585h6v4h-6zM525 589h7v7h-7zM527 596h7v7h-7zM529 603h7v4h-7zM532 607h6v7h-6zM534 614h7v7h-7zM536 621h7v4h-7zM538 625h7v7h-7zM541 632h6v7h-6zM543 639h7v4h-7zM545 643h7v5h-7zM547 648h7v4h-7zM550 652h6v5h-6zM552 657h7v7h-7zM554 664h7v4h-7zM556 668h7v5h-7zM559 673h6v4h-6zM561 677h7v5h-7zM563 682h7v4h-7zM565 686h7v2h-7zM568 688h6v5h-6zM570 693h7v2h-7zM572 695h7v2h-7zM574 697h7v5h-7zM577 702h6v2h-6zM579 704h7v2h-7zM581 706h7v5h-7zM583 711h7v2h-7zM586 713h6v2h-6zM588 715h7v3h-7zM590 718h7v2h-7zM592 720h7v2h-7zM595 722h6v2h-6zM597 724h7v5h-7zM599 729h7v2h-7zM601 731h7v2h-7zM604 733h6v3h-6zM606 736h7v2h-7zM608 738h7v4h-7zM610 742h7v7h-7zM613 749h6v7h-6zM615 756h7v7h-7zM617 763h7v6h-7zM619 769h7v9h-7zM622 778h6v7h-6zM624 785h7v7h-7zM626 792h7v7h-7zM628 799h7v6h-7zM631 805h2v3h-2zM70 970h5v2h-5zM23 970h14v2h-14zM59 970h5v2h-5zM41 970h14v2h-14zM232 970h12v2h-12zM68 972h7v2h-7zM59 972h7v2h-7zM41 972h5v4h-5zM34 972h5v4h-5zM52 972h5v4h-5zM23 972h5v4h-5zM59 974h16v2h-16zM23 976h14v3h-14zM41 976h14v3h-14zM66 976h2v3h-2zM32 979h5v2h-5zM230 972h5v11h-5zM241 972h5v11h-5zM70 976h5v9h-5zM59 976h5v9h-5zM41 979h5v6h-5zM23 979h5v6h-5zM34 981h5v4h-5zM232 983h12v2h-12zM505 1042h15v2h-15zM1299 1042h4v2h-4zM723 1042h9v2h-9zM1231 1042h5v2h-5zM307 1042h13v2h-13zM1243 1042h15v2h-15zM61 1042h5v2h-5zM217 1042h13v2h-13zM703 1042h15v2h-15zM545 1042h5v4h-5zM1229 1044h5v2h-5zM59 1044h9v2h-9zM1301 1044h5v2h-5zM1002 1042h4v6h-4zM991 1042h4v6h-4zM1243 1044h4v4h-4zM721 1044h4v4h-4zM228 1044h4v4h-4zM703 1044h4v4h-4zM730 1044h4v4h-4zM505 1044h4v4h-4zM217 1044h4v4h-4zM1281 1046h11v2h-11zM271 1046h13v2h-13zM579 1046h4v2h-4zM1036 1046h6v2h-6zM325 1046h13v2h-13zM1303 1046h5v2h-5zM1263 1046h11v2h-11zM523 1046h13v2h-13zM57 1046h13v2h-13zM561 1046h11v2h-11zM1047 1046h11v2h-11zM586 1046h6v2h-6zM543 1046h11v2h-11zM237 1046h13v2h-13zM1227 1046h4v2h-4zM1027 1046h6v2h-6zM1011 1046h11v2h-11zM79 1042h5v9h-5zM1261 1048h4v3h-4zM559 1048h4v3h-4zM1056 1048h4v3h-4zM570 1048h4v3h-4zM1045 1048h4v3h-4zM991 1048h15v3h-15zM723 1048h9v3h-9zM1306 1048h4v3h-4zM1225 1048h4v3h-4zM505 1048h13v3h-13zM579 1048h7v3h-7zM1027 1048h15v3h-15zM217 1048h13v3h-13zM703 1048h13v3h-13zM1290 1048h4v3h-4zM1243 1048h13v3h-13zM271 1048h4v5h-4zM282 1048h4v5h-4zM235 1048h4v5h-4zM246 1048h4v5h-4zM75 1051h13v2h-13zM1303 1051h5v2h-5zM1263 1051h11v2h-11zM1033 1051h3v2h-3zM559 1051h15v2h-15zM1045 1051h15v2h-15zM1227 1051h4v2h-4zM253 1042h4v13h-4zM264 1042h4v13h-4zM318 1044h4v11h-4zM307 1044h4v11h-4zM1009 1048h4v7h-4zM1020 1048h4v7h-4zM545 1048h5v7h-5zM1279 1048h4v7h-4zM1243 1051h4v4h-4zM730 1051h4v4h-4zM721 1051h4v4h-4zM505 1051h4v4h-4zM1229 1053h5v2h-5zM271 1053h13v2h-13zM559 1053h4v2h-4zM1272 1053h4v2h-4zM1045 1053h4v2h-4zM237 1053h13v2h-13zM77 1053h9v2h-9zM1301 1053h5v2h-5zM325 1048h4v9h-4zM336 1048h4v9h-4zM523 1048h4v9h-4zM534 1048h4v9h-4zM61 1048h5v9h-5zM579 1051h4v6h-4zM1002 1051h4v6h-4zM703 1051h4v6h-4zM1027 1051h4v6h-4zM1038 1051h4v6h-4zM991 1051h4v6h-4zM217 1051h4v6h-4zM561 1055h13v2h-13zM505 1055h15v2h-15zM723 1055h9v2h-9zM1231 1055h5v2h-5zM307 1055h13v2h-13zM1243 1055h15v2h-15zM1281 1055h13v2h-13zM547 1055h7v2h-7zM79 1055h5v2h-5zM1261 1055h13v2h-13zM1299 1055h4v2h-4zM255 1055h11v2h-11zM246 1055h4v2h-4zM1047 1055h13v2h-13zM1011 1055h11v2h-11zM271 1055h4v5h-4zM237 1057h11v3h-11z"/>
<path fill="#FFFF55" d="M934 745h12v2h-12zM921 747h38v2h-38zM907 749h66v2h-66zM883 751h51v3h-51zM946 751h42v3h-42zM959 754h47v2h-47zM862 754h59v2h-59zM858 756h49v2h-49zM973 756h54v2h-54zM988 758h57v2h-57zM856 758h27v2h-27zM1006 760h68v3h-68zM853 760h9v3h-9zM1027 763h67v2h-67zM849 763h9v2h-9zM671 763h43v2h-43zM669 765h54v2h-54zM1045 765h54v2h-54zM847 765h9v2h-9zM1074 767h27v2h-27zM667 767h63v2h-63zM842 767h11v2h-11zM840 769h9v3h-9zM664 769h7v3h-7zM714 769h22v3h-22zM1094 769h9v3h-9zM1099 772h9v2h-9zM835 772h12v2h-12zM662 772h7v2h-7zM723 772h22v2h-22zM1101 774h9v2h-9zM833 774h9v2h-9zM730 774h24v2h-24zM660 774h7v4h-7zM831 776h9v2h-9zM1103 776h11v2h-11zM736 776h32v2h-32zM826 778h9v3h-9zM1108 778h9v3h-9zM745 778h36v3h-36zM658 778h6v3h-6zM1110 781h11v2h-11zM655 781h7v2h-7zM754 781h79v2h-79zM768 783h63v2h-63zM653 783h7v2h-7zM1114 783h9v2h-9zM651 785h7v2h-7zM1117 785h9v2h-9zM781 785h45v2h-45zM1121 787h9v3h-9zM649 787h6v3h-6zM646 790h7v2h-7zM1123 790h9v2h-9zM1126 792h9v2h-9zM644 792h7v2h-7zM1128 794h7v2h-7zM642 794h7v2h-7zM1130 796h7v5h-7zM640 796h6v5h-6zM637 801h7v2h-7zM1132 801h7v4h-7zM635 803h7v2h-7zM633 805h7v3h-7zM631 808h6v2h-6zM1135 805h6v7h-6zM1137 812h7v5h-7zM1139 817h7v4h-7zM1141 821h7v5h-7zM1144 826h6v6h-6zM1146 832h7v5h-7zM1148 837h7v4h-7zM1150 841h7v7h-7zM1153 848h6v5h-6zM1155 853h7v4h-7zM1157 857h7v5h-7zM1159 862h7v6h-7zM1162 868h6v5h-6zM1164 873h7v4h-7zM1166 877h234v5h-234zM1168 882h232v2h-232zM66 997h9v2h-9zM23 997h16v2h-16zM48 997h9v2h-9zM196 997h12v2h-12zM232 997h12v2h-12zM282 999h4v2h-4zM46 999h4v2h-4zM64 999h4v2h-4zM271 999h4v4h-4zM23 999h5v4h-5zM43 1001h12v2h-12zM280 1001h4v2h-4zM61 1001h12v2h-12zM79 1001h12v2h-12zM23 1003h14v3h-14zM277 1003h5v3h-5zM88 1003h5v3h-5zM106 1001h5v7h-5zM95 1001h5v7h-5zM275 1006h5v2h-5zM230 999h5v11h-5zM194 999h5v11h-5zM205 999h5v11h-5zM241 999h5v11h-5zM77 1003h5v7h-5zM23 1006h5v4h-5zM273 1008h4v2h-4zM97 1008h14v2h-14zM46 1003h4v9h-4zM64 1003h4v9h-4zM282 1008h4v4h-4zM217 1008h4v4h-4zM106 1010h5v2h-5zM271 1010h4v2h-4zM23 1010h16v2h-16zM196 1010h12v2h-12zM79 1010h14v2h-14zM232 1010h12v2h-12zM97 1012h12v3h-12z"/>
</svg>
<div class="t" style="left:23px;top:858px;font-size:47px;">Fuel Main</div>
<div class="t" style="left:23px;top:905px;font-size:24px;">( % of IJPU )</div>
<div class="t" style="left:23px;top:939px;font-size:24px;">Table     14.5</div>
<div class="t" style="left:23px;top:966px;font-size:24px;">RPM          0</div>
<div class="t" style="left:23px;top:993px;font-size:24px;">Effcy    0.0 %</div>
<div class="t" style="left:214px;top:612px;font-size:24px;">100.0</div>
<div class="t" style="left:255px;top:633px;font-size:24px;">90.0</div>
<div class="t" style="left:277px;top:653px;font-size:24px;">80.0</div>
<div class="t" style="left:300px;top:673px;font-size:24px;">70.0</div>
<div class="t" style="left:322px;top:693px;font-size:24px;">60.0</div>
<div class="t" style="left:345px;top:714px;font-size:24px;">50.0</div>
<div class="t" style="left:367px;top:734px;font-size:24px;">40.0</div>
<div class="t" style="left:390px;top:754px;font-size:24px;">30.0</div>
<div class="t" style="left:412px;top:774px;font-size:24px;">25.0</div>
<div class="t" style="left:435px;top:795px;font-size:24px;">20.0</div>
<div class="t" style="left:457px;top:815px;font-size:24px;">15.0</div>
<div class="t" style="left:480px;top:835px;font-size:24px;">10.0</div>
<div class="t" style="left:520px;top:855px;font-size:24px;">5.0</div>
<div class="t" style="left:543px;top:876px;font-size:24px;">2.0</div>
<div class="t" style="left:565px;top:896px;font-size:24px;">0.0</div>
<div class="t" style="left:663px;top:990px;font-size:24px;transform:rotate(-90deg);transform-origin:0 0;">400</div>
<div class="t" style="left:701px;top:990px;font-size:24px;transform:rotate(-90deg);transform-origin:0 0;">600</div>
<div class="t" style="left:740px;top:990px;font-size:24px;transform:rotate(-90deg);transform-origin:0 0;">800</div>
<div class="t" style="left:778px;top:990px;font-size:24px;transform:rotate(-90deg);transform-origin:0 0;">1000</div>
<div class="t" style="left:816px;top:990px;font-size:24px;transform:rotate(-90deg);transform-origin:0 0;">1200</div>
<div class="t" style="left:854px;top:990px;font-size:24px;transform:rotate(-90deg);transform-origin:0 0;">1400</div>
<div class="t" style="left:893px;top:990px;font-size:24px;transform:rotate(-90deg);transform-origin:0 0;">1600</div>
<div class="t" style="left:931px;top:990px;font-size:24px;transform:rotate(-90deg);transform-origin:0 0;">1800</div>
<div class="t" style="left:969px;top:990px;font-size:24px;transform:rotate(-90deg);transform-origin:0 0;">2000</div>
<div class="t" style="left:1007px;top:990px;font-size:24px;transform:rotate(-90deg);transform-origin:0 0;">2200</div>
<div class="t" style="left:1046px;top:990px;font-size:24px;transform:rotate(-90deg);transform-origin:0 0;">2400</div>
<div class="t" style="left:1084px;top:990px;font-size:24px;transform:rotate(-90deg);transform-origin:0 0;">2600</div>
<div class="t" style="left:1122px;top:990px;font-size:24px;transform:rotate(-90deg);transform-origin:0 0;">2800</div>
<div class="t" style="left:1160px;top:990px;font-size:24px;transform:rotate(-90deg);transform-origin:0 0;">3000</div>
<div class="t" style="left:1199px;top:990px;font-size:24px;transform:rotate(-90deg);transform-origin:0 0;">3500</div>
<div class="t" style="left:1237px;top:990px;font-size:24px;transform:rotate(-90deg);transform-origin:0 0;">4000</div>
<div class="t" style="left:1275px;top:990px;font-size:24px;transform:rotate(-90deg);transform-origin:0 0;">4500</div>
<div class="t" style="left:1313px;top:990px;font-size:24px;transform:rotate(-90deg);transform-origin:0 0;">5500</div>
<div class="t" style="left:1352px;top:990px;font-size:24px;transform:rotate(-90deg);transform-origin:0 0;">6000</div>
<div class="t" style="left:1390px;top:990px;font-size:24px;transform:rotate(-90deg);transform-origin:0 0;">6500</div>
<div class="t" style="left:54px;top:1038px;font-size:24px;">↑↓-Site  PgUp/Dn-Adjust  Enter-Set  F8-Change View  Home-Redraw  &lt;Esc&gt;-End</div>
</body></html>
